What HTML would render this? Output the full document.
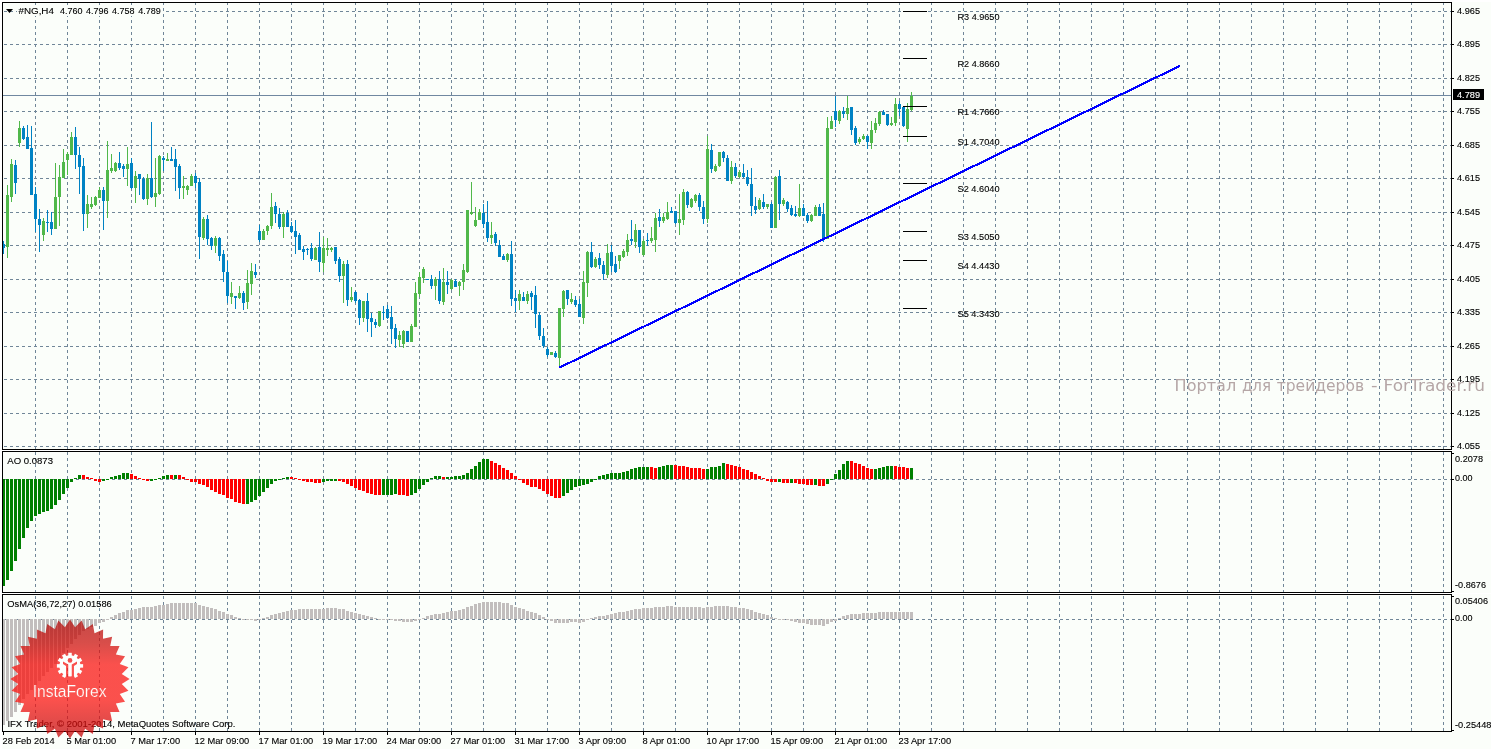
<!DOCTYPE html>
<html lang="en"><head><meta charset="utf-8"><title>#NG,H4</title>
<style>
html,body{margin:0;padding:0;background:#fff;}
body{width:1491px;height:749px;overflow:hidden;position:relative;font-family:"Liberation Sans",sans-serif;}
svg text{white-space:pre;}
</style></head><body>
<svg width="1491" height="749" viewBox="0 0 1491 749" style="position:absolute;left:0;top:0;display:block">
<rect x="0" y="0" width="1491" height="749" fill="#ffffff" />
<rect x="2" y="2" width="1489" height="747" fill="#fbfefa" />
<g shape-rendering="crispEdges" stroke="#708698" stroke-width="1" fill="none">
<line x1="35.5" y1="3" x2="35.5" y2="449" stroke-dasharray="3 3" stroke-dashoffset="1"/>
<line x1="35.5" y1="452" x2="35.5" y2="592" stroke-dasharray="3 3" stroke-dashoffset="0"/>
<line x1="35.5" y1="595" x2="35.5" y2="731" stroke-dasharray="3 3" stroke-dashoffset="5"/>
<line x1="67.5" y1="3" x2="67.5" y2="449" stroke-dasharray="3 3" stroke-dashoffset="1"/>
<line x1="67.5" y1="452" x2="67.5" y2="592" stroke-dasharray="3 3" stroke-dashoffset="0"/>
<line x1="67.5" y1="595" x2="67.5" y2="731" stroke-dasharray="3 3" stroke-dashoffset="5"/>
<line x1="99.5" y1="3" x2="99.5" y2="449" stroke-dasharray="3 3" stroke-dashoffset="1"/>
<line x1="99.5" y1="452" x2="99.5" y2="592" stroke-dasharray="3 3" stroke-dashoffset="0"/>
<line x1="99.5" y1="595" x2="99.5" y2="731" stroke-dasharray="3 3" stroke-dashoffset="5"/>
<line x1="131.5" y1="3" x2="131.5" y2="449" stroke-dasharray="3 3" stroke-dashoffset="1"/>
<line x1="131.5" y1="452" x2="131.5" y2="592" stroke-dasharray="3 3" stroke-dashoffset="0"/>
<line x1="131.5" y1="595" x2="131.5" y2="731" stroke-dasharray="3 3" stroke-dashoffset="5"/>
<line x1="163.5" y1="3" x2="163.5" y2="449" stroke-dasharray="3 3" stroke-dashoffset="1"/>
<line x1="163.5" y1="452" x2="163.5" y2="592" stroke-dasharray="3 3" stroke-dashoffset="0"/>
<line x1="163.5" y1="595" x2="163.5" y2="731" stroke-dasharray="3 3" stroke-dashoffset="5"/>
<line x1="195.5" y1="3" x2="195.5" y2="449" stroke-dasharray="3 3" stroke-dashoffset="1"/>
<line x1="195.5" y1="452" x2="195.5" y2="592" stroke-dasharray="3 3" stroke-dashoffset="0"/>
<line x1="195.5" y1="595" x2="195.5" y2="731" stroke-dasharray="3 3" stroke-dashoffset="5"/>
<line x1="227.5" y1="3" x2="227.5" y2="449" stroke-dasharray="3 3" stroke-dashoffset="1"/>
<line x1="227.5" y1="452" x2="227.5" y2="592" stroke-dasharray="3 3" stroke-dashoffset="0"/>
<line x1="227.5" y1="595" x2="227.5" y2="731" stroke-dasharray="3 3" stroke-dashoffset="5"/>
<line x1="259.5" y1="3" x2="259.5" y2="449" stroke-dasharray="3 3" stroke-dashoffset="1"/>
<line x1="259.5" y1="452" x2="259.5" y2="592" stroke-dasharray="3 3" stroke-dashoffset="0"/>
<line x1="259.5" y1="595" x2="259.5" y2="731" stroke-dasharray="3 3" stroke-dashoffset="5"/>
<line x1="291.5" y1="3" x2="291.5" y2="449" stroke-dasharray="3 3" stroke-dashoffset="1"/>
<line x1="291.5" y1="452" x2="291.5" y2="592" stroke-dasharray="3 3" stroke-dashoffset="0"/>
<line x1="291.5" y1="595" x2="291.5" y2="731" stroke-dasharray="3 3" stroke-dashoffset="5"/>
<line x1="323.5" y1="3" x2="323.5" y2="449" stroke-dasharray="3 3" stroke-dashoffset="1"/>
<line x1="323.5" y1="452" x2="323.5" y2="592" stroke-dasharray="3 3" stroke-dashoffset="0"/>
<line x1="323.5" y1="595" x2="323.5" y2="731" stroke-dasharray="3 3" stroke-dashoffset="5"/>
<line x1="355.5" y1="3" x2="355.5" y2="449" stroke-dasharray="3 3" stroke-dashoffset="1"/>
<line x1="355.5" y1="452" x2="355.5" y2="592" stroke-dasharray="3 3" stroke-dashoffset="0"/>
<line x1="355.5" y1="595" x2="355.5" y2="731" stroke-dasharray="3 3" stroke-dashoffset="5"/>
<line x1="387.5" y1="3" x2="387.5" y2="449" stroke-dasharray="3 3" stroke-dashoffset="1"/>
<line x1="387.5" y1="452" x2="387.5" y2="592" stroke-dasharray="3 3" stroke-dashoffset="0"/>
<line x1="387.5" y1="595" x2="387.5" y2="731" stroke-dasharray="3 3" stroke-dashoffset="5"/>
<line x1="419.5" y1="3" x2="419.5" y2="449" stroke-dasharray="3 3" stroke-dashoffset="1"/>
<line x1="419.5" y1="452" x2="419.5" y2="592" stroke-dasharray="3 3" stroke-dashoffset="0"/>
<line x1="419.5" y1="595" x2="419.5" y2="731" stroke-dasharray="3 3" stroke-dashoffset="5"/>
<line x1="451.5" y1="3" x2="451.5" y2="449" stroke-dasharray="3 3" stroke-dashoffset="1"/>
<line x1="451.5" y1="452" x2="451.5" y2="592" stroke-dasharray="3 3" stroke-dashoffset="0"/>
<line x1="451.5" y1="595" x2="451.5" y2="731" stroke-dasharray="3 3" stroke-dashoffset="5"/>
<line x1="483.5" y1="3" x2="483.5" y2="449" stroke-dasharray="3 3" stroke-dashoffset="1"/>
<line x1="483.5" y1="452" x2="483.5" y2="592" stroke-dasharray="3 3" stroke-dashoffset="0"/>
<line x1="483.5" y1="595" x2="483.5" y2="731" stroke-dasharray="3 3" stroke-dashoffset="5"/>
<line x1="515.5" y1="3" x2="515.5" y2="449" stroke-dasharray="3 3" stroke-dashoffset="1"/>
<line x1="515.5" y1="452" x2="515.5" y2="592" stroke-dasharray="3 3" stroke-dashoffset="0"/>
<line x1="515.5" y1="595" x2="515.5" y2="731" stroke-dasharray="3 3" stroke-dashoffset="5"/>
<line x1="547.5" y1="3" x2="547.5" y2="449" stroke-dasharray="3 3" stroke-dashoffset="1"/>
<line x1="547.5" y1="452" x2="547.5" y2="592" stroke-dasharray="3 3" stroke-dashoffset="0"/>
<line x1="547.5" y1="595" x2="547.5" y2="731" stroke-dasharray="3 3" stroke-dashoffset="5"/>
<line x1="579.5" y1="3" x2="579.5" y2="449" stroke-dasharray="3 3" stroke-dashoffset="1"/>
<line x1="579.5" y1="452" x2="579.5" y2="592" stroke-dasharray="3 3" stroke-dashoffset="0"/>
<line x1="579.5" y1="595" x2="579.5" y2="731" stroke-dasharray="3 3" stroke-dashoffset="5"/>
<line x1="611.5" y1="3" x2="611.5" y2="449" stroke-dasharray="3 3" stroke-dashoffset="1"/>
<line x1="611.5" y1="452" x2="611.5" y2="592" stroke-dasharray="3 3" stroke-dashoffset="0"/>
<line x1="611.5" y1="595" x2="611.5" y2="731" stroke-dasharray="3 3" stroke-dashoffset="5"/>
<line x1="643.5" y1="3" x2="643.5" y2="449" stroke-dasharray="3 3" stroke-dashoffset="1"/>
<line x1="643.5" y1="452" x2="643.5" y2="592" stroke-dasharray="3 3" stroke-dashoffset="0"/>
<line x1="643.5" y1="595" x2="643.5" y2="731" stroke-dasharray="3 3" stroke-dashoffset="5"/>
<line x1="675.5" y1="3" x2="675.5" y2="449" stroke-dasharray="3 3" stroke-dashoffset="1"/>
<line x1="675.5" y1="452" x2="675.5" y2="592" stroke-dasharray="3 3" stroke-dashoffset="0"/>
<line x1="675.5" y1="595" x2="675.5" y2="731" stroke-dasharray="3 3" stroke-dashoffset="5"/>
<line x1="707.5" y1="3" x2="707.5" y2="449" stroke-dasharray="3 3" stroke-dashoffset="1"/>
<line x1="707.5" y1="452" x2="707.5" y2="592" stroke-dasharray="3 3" stroke-dashoffset="0"/>
<line x1="707.5" y1="595" x2="707.5" y2="731" stroke-dasharray="3 3" stroke-dashoffset="5"/>
<line x1="739.5" y1="3" x2="739.5" y2="449" stroke-dasharray="3 3" stroke-dashoffset="1"/>
<line x1="739.5" y1="452" x2="739.5" y2="592" stroke-dasharray="3 3" stroke-dashoffset="0"/>
<line x1="739.5" y1="595" x2="739.5" y2="731" stroke-dasharray="3 3" stroke-dashoffset="5"/>
<line x1="771.5" y1="3" x2="771.5" y2="449" stroke-dasharray="3 3" stroke-dashoffset="1"/>
<line x1="771.5" y1="452" x2="771.5" y2="592" stroke-dasharray="3 3" stroke-dashoffset="0"/>
<line x1="771.5" y1="595" x2="771.5" y2="731" stroke-dasharray="3 3" stroke-dashoffset="5"/>
<line x1="803.5" y1="3" x2="803.5" y2="449" stroke-dasharray="3 3" stroke-dashoffset="1"/>
<line x1="803.5" y1="452" x2="803.5" y2="592" stroke-dasharray="3 3" stroke-dashoffset="0"/>
<line x1="803.5" y1="595" x2="803.5" y2="731" stroke-dasharray="3 3" stroke-dashoffset="5"/>
<line x1="835.5" y1="3" x2="835.5" y2="449" stroke-dasharray="3 3" stroke-dashoffset="1"/>
<line x1="835.5" y1="452" x2="835.5" y2="592" stroke-dasharray="3 3" stroke-dashoffset="0"/>
<line x1="835.5" y1="595" x2="835.5" y2="731" stroke-dasharray="3 3" stroke-dashoffset="5"/>
<line x1="867.5" y1="3" x2="867.5" y2="449" stroke-dasharray="3 3" stroke-dashoffset="1"/>
<line x1="867.5" y1="452" x2="867.5" y2="592" stroke-dasharray="3 3" stroke-dashoffset="0"/>
<line x1="867.5" y1="595" x2="867.5" y2="731" stroke-dasharray="3 3" stroke-dashoffset="5"/>
<line x1="899.5" y1="3" x2="899.5" y2="449" stroke-dasharray="3 3" stroke-dashoffset="1"/>
<line x1="899.5" y1="452" x2="899.5" y2="592" stroke-dasharray="3 3" stroke-dashoffset="0"/>
<line x1="899.5" y1="595" x2="899.5" y2="731" stroke-dasharray="3 3" stroke-dashoffset="5"/>
<line x1="931.5" y1="3" x2="931.5" y2="449" stroke-dasharray="3 3" stroke-dashoffset="1"/>
<line x1="931.5" y1="452" x2="931.5" y2="592" stroke-dasharray="3 3" stroke-dashoffset="0"/>
<line x1="931.5" y1="595" x2="931.5" y2="731" stroke-dasharray="3 3" stroke-dashoffset="5"/>
<line x1="963.5" y1="3" x2="963.5" y2="449" stroke-dasharray="3 3" stroke-dashoffset="1"/>
<line x1="963.5" y1="452" x2="963.5" y2="592" stroke-dasharray="3 3" stroke-dashoffset="0"/>
<line x1="963.5" y1="595" x2="963.5" y2="731" stroke-dasharray="3 3" stroke-dashoffset="5"/>
<line x1="995.5" y1="3" x2="995.5" y2="449" stroke-dasharray="3 3" stroke-dashoffset="1"/>
<line x1="995.5" y1="452" x2="995.5" y2="592" stroke-dasharray="3 3" stroke-dashoffset="0"/>
<line x1="995.5" y1="595" x2="995.5" y2="731" stroke-dasharray="3 3" stroke-dashoffset="5"/>
<line x1="1027.5" y1="3" x2="1027.5" y2="449" stroke-dasharray="3 3" stroke-dashoffset="1"/>
<line x1="1027.5" y1="452" x2="1027.5" y2="592" stroke-dasharray="3 3" stroke-dashoffset="0"/>
<line x1="1027.5" y1="595" x2="1027.5" y2="731" stroke-dasharray="3 3" stroke-dashoffset="5"/>
<line x1="1059.5" y1="3" x2="1059.5" y2="449" stroke-dasharray="3 3" stroke-dashoffset="1"/>
<line x1="1059.5" y1="452" x2="1059.5" y2="592" stroke-dasharray="3 3" stroke-dashoffset="0"/>
<line x1="1059.5" y1="595" x2="1059.5" y2="731" stroke-dasharray="3 3" stroke-dashoffset="5"/>
<line x1="1091.5" y1="3" x2="1091.5" y2="449" stroke-dasharray="3 3" stroke-dashoffset="1"/>
<line x1="1091.5" y1="452" x2="1091.5" y2="592" stroke-dasharray="3 3" stroke-dashoffset="0"/>
<line x1="1091.5" y1="595" x2="1091.5" y2="731" stroke-dasharray="3 3" stroke-dashoffset="5"/>
<line x1="1123.5" y1="3" x2="1123.5" y2="449" stroke-dasharray="3 3" stroke-dashoffset="1"/>
<line x1="1123.5" y1="452" x2="1123.5" y2="592" stroke-dasharray="3 3" stroke-dashoffset="0"/>
<line x1="1123.5" y1="595" x2="1123.5" y2="731" stroke-dasharray="3 3" stroke-dashoffset="5"/>
<line x1="1155.5" y1="3" x2="1155.5" y2="449" stroke-dasharray="3 3" stroke-dashoffset="1"/>
<line x1="1155.5" y1="452" x2="1155.5" y2="592" stroke-dasharray="3 3" stroke-dashoffset="0"/>
<line x1="1155.5" y1="595" x2="1155.5" y2="731" stroke-dasharray="3 3" stroke-dashoffset="5"/>
<line x1="1187.5" y1="3" x2="1187.5" y2="449" stroke-dasharray="3 3" stroke-dashoffset="1"/>
<line x1="1187.5" y1="452" x2="1187.5" y2="592" stroke-dasharray="3 3" stroke-dashoffset="0"/>
<line x1="1187.5" y1="595" x2="1187.5" y2="731" stroke-dasharray="3 3" stroke-dashoffset="5"/>
<line x1="1219.5" y1="3" x2="1219.5" y2="449" stroke-dasharray="3 3" stroke-dashoffset="1"/>
<line x1="1219.5" y1="452" x2="1219.5" y2="592" stroke-dasharray="3 3" stroke-dashoffset="0"/>
<line x1="1219.5" y1="595" x2="1219.5" y2="731" stroke-dasharray="3 3" stroke-dashoffset="5"/>
<line x1="1251.5" y1="3" x2="1251.5" y2="449" stroke-dasharray="3 3" stroke-dashoffset="1"/>
<line x1="1251.5" y1="452" x2="1251.5" y2="592" stroke-dasharray="3 3" stroke-dashoffset="0"/>
<line x1="1251.5" y1="595" x2="1251.5" y2="731" stroke-dasharray="3 3" stroke-dashoffset="5"/>
<line x1="1283.5" y1="3" x2="1283.5" y2="449" stroke-dasharray="3 3" stroke-dashoffset="1"/>
<line x1="1283.5" y1="452" x2="1283.5" y2="592" stroke-dasharray="3 3" stroke-dashoffset="0"/>
<line x1="1283.5" y1="595" x2="1283.5" y2="731" stroke-dasharray="3 3" stroke-dashoffset="5"/>
<line x1="1315.5" y1="3" x2="1315.5" y2="449" stroke-dasharray="3 3" stroke-dashoffset="1"/>
<line x1="1315.5" y1="452" x2="1315.5" y2="592" stroke-dasharray="3 3" stroke-dashoffset="0"/>
<line x1="1315.5" y1="595" x2="1315.5" y2="731" stroke-dasharray="3 3" stroke-dashoffset="5"/>
<line x1="1347.5" y1="3" x2="1347.5" y2="449" stroke-dasharray="3 3" stroke-dashoffset="1"/>
<line x1="1347.5" y1="452" x2="1347.5" y2="592" stroke-dasharray="3 3" stroke-dashoffset="0"/>
<line x1="1347.5" y1="595" x2="1347.5" y2="731" stroke-dasharray="3 3" stroke-dashoffset="5"/>
<line x1="1379.5" y1="3" x2="1379.5" y2="449" stroke-dasharray="3 3" stroke-dashoffset="1"/>
<line x1="1379.5" y1="452" x2="1379.5" y2="592" stroke-dasharray="3 3" stroke-dashoffset="0"/>
<line x1="1379.5" y1="595" x2="1379.5" y2="731" stroke-dasharray="3 3" stroke-dashoffset="5"/>
<line x1="1411.5" y1="3" x2="1411.5" y2="449" stroke-dasharray="3 3" stroke-dashoffset="1"/>
<line x1="1411.5" y1="452" x2="1411.5" y2="592" stroke-dasharray="3 3" stroke-dashoffset="0"/>
<line x1="1411.5" y1="595" x2="1411.5" y2="731" stroke-dasharray="3 3" stroke-dashoffset="5"/>
<line x1="1443.5" y1="3" x2="1443.5" y2="449" stroke-dasharray="3 3" stroke-dashoffset="1"/>
<line x1="1443.5" y1="452" x2="1443.5" y2="592" stroke-dasharray="3 3" stroke-dashoffset="0"/>
<line x1="1443.5" y1="595" x2="1443.5" y2="731" stroke-dasharray="3 3" stroke-dashoffset="5"/>
<line x1="3" y1="11.5" x2="1451" y2="11.5" stroke-dasharray="3 3" stroke-dashoffset="5"/>
<line x1="3" y1="44.5" x2="1451" y2="44.5" stroke-dasharray="3 3" stroke-dashoffset="5"/>
<line x1="3" y1="78.5" x2="1451" y2="78.5" stroke-dasharray="3 3" stroke-dashoffset="5"/>
<line x1="3" y1="111.5" x2="1451" y2="111.5" stroke-dasharray="3 3" stroke-dashoffset="5"/>
<line x1="3" y1="145.5" x2="1451" y2="145.5" stroke-dasharray="3 3" stroke-dashoffset="5"/>
<line x1="3" y1="178.5" x2="1451" y2="178.5" stroke-dasharray="3 3" stroke-dashoffset="5"/>
<line x1="3" y1="212.5" x2="1451" y2="212.5" stroke-dasharray="3 3" stroke-dashoffset="5"/>
<line x1="3" y1="245.5" x2="1451" y2="245.5" stroke-dasharray="3 3" stroke-dashoffset="5"/>
<line x1="3" y1="279.5" x2="1451" y2="279.5" stroke-dasharray="3 3" stroke-dashoffset="5"/>
<line x1="3" y1="312.5" x2="1451" y2="312.5" stroke-dasharray="3 3" stroke-dashoffset="5"/>
<line x1="3" y1="346.5" x2="1451" y2="346.5" stroke-dasharray="3 3" stroke-dashoffset="5"/>
<line x1="3" y1="379.5" x2="1451" y2="379.5" stroke-dasharray="3 3" stroke-dashoffset="5"/>
<line x1="3" y1="413.5" x2="1451" y2="413.5" stroke-dasharray="3 3" stroke-dashoffset="5"/>
<line x1="3" y1="446.5" x2="1451" y2="446.5" stroke-dasharray="3 3" stroke-dashoffset="5"/>
</g>
<g shape-rendering="crispEdges" stroke="#708698" stroke-width="1" fill="none">
<line x1="3" y1="479.5" x2="1451" y2="479.5" stroke-dasharray="3 3" stroke-dashoffset="5"/>
<line x1="3" y1="619.5" x2="1451" y2="619.5" stroke-dasharray="3 3" stroke-dashoffset="5"/>
</g>
<g shape-rendering="crispEdges">
<rect x="3" y="619" width="2" height="106" fill="#c2bebd" />
<rect x="6" y="619" width="3" height="102" fill="#c2bebd" />
<rect x="10" y="619" width="3" height="98" fill="#c2bebd" />
<rect x="14" y="619" width="3" height="93" fill="#c2bebd" />
<rect x="18" y="619" width="3" height="86" fill="#c2bebd" />
<rect x="22" y="619" width="3" height="80" fill="#c2bebd" />
<rect x="26" y="619" width="3" height="75" fill="#c2bebd" />
<rect x="30" y="619" width="3" height="71" fill="#c2bebd" />
<rect x="34" y="619" width="3" height="66" fill="#c2bebd" />
<rect x="38" y="619" width="3" height="62" fill="#c2bebd" />
<rect x="42" y="619" width="3" height="57" fill="#c2bebd" />
<rect x="46" y="619" width="3" height="53" fill="#c2bebd" />
<rect x="50" y="619" width="3" height="49" fill="#c2bebd" />
<rect x="54" y="619" width="3" height="45" fill="#c2bebd" />
<rect x="58" y="619" width="3" height="40" fill="#c2bebd" />
<rect x="62" y="619" width="3" height="34" fill="#c2bebd" />
<rect x="66" y="619" width="3" height="29" fill="#c2bebd" />
<rect x="70" y="619" width="3" height="25" fill="#c2bebd" />
<rect x="74" y="619" width="3" height="20" fill="#c2bebd" />
<rect x="78" y="619" width="3" height="16" fill="#c2bebd" />
<rect x="82" y="619" width="3" height="12" fill="#c2bebd" />
<rect x="86" y="619" width="3" height="10" fill="#c2bebd" />
<rect x="90" y="619" width="3" height="8" fill="#c2bebd" />
<rect x="94" y="619" width="3" height="7" fill="#c2bebd" />
<rect x="98" y="619" width="3" height="4" fill="#c2bebd" />
<rect x="102" y="619" width="3" height="3" fill="#c2bebd" />
<rect x="106" y="619" width="3" height="1" fill="#c2bebd" />
<rect x="110" y="617" width="3" height="2" fill="#c2bebd" />
<rect x="114" y="615" width="3" height="4" fill="#c2bebd" />
<rect x="118" y="613" width="3" height="6" fill="#c2bebd" />
<rect x="122" y="612" width="3" height="7" fill="#c2bebd" />
<rect x="126" y="610" width="3" height="9" fill="#c2bebd" />
<rect x="130" y="610" width="3" height="9" fill="#c2bebd" />
<rect x="134" y="609" width="3" height="10" fill="#c2bebd" />
<rect x="138" y="608" width="3" height="11" fill="#c2bebd" />
<rect x="142" y="607" width="3" height="12" fill="#c2bebd" />
<rect x="146" y="607" width="3" height="12" fill="#c2bebd" />
<rect x="150" y="607" width="3" height="12" fill="#c2bebd" />
<rect x="154" y="606" width="3" height="13" fill="#c2bebd" />
<rect x="158" y="605" width="3" height="14" fill="#c2bebd" />
<rect x="162" y="605" width="3" height="14" fill="#c2bebd" />
<rect x="166" y="604" width="3" height="15" fill="#c2bebd" />
<rect x="170" y="603" width="3" height="16" fill="#c2bebd" />
<rect x="174" y="603" width="3" height="16" fill="#c2bebd" />
<rect x="178" y="603" width="3" height="16" fill="#c2bebd" />
<rect x="182" y="603" width="3" height="16" fill="#c2bebd" />
<rect x="186" y="603" width="3" height="16" fill="#c2bebd" />
<rect x="190" y="603" width="3" height="16" fill="#c2bebd" />
<rect x="194" y="603" width="3" height="16" fill="#c2bebd" />
<rect x="198" y="605" width="3" height="14" fill="#c2bebd" />
<rect x="202" y="606" width="3" height="13" fill="#c2bebd" />
<rect x="206" y="607" width="3" height="12" fill="#c2bebd" />
<rect x="210" y="608" width="3" height="11" fill="#c2bebd" />
<rect x="214" y="609" width="3" height="10" fill="#c2bebd" />
<rect x="218" y="611" width="3" height="8" fill="#c2bebd" />
<rect x="222" y="612" width="3" height="7" fill="#c2bebd" />
<rect x="226" y="614" width="3" height="5" fill="#c2bebd" />
<rect x="230" y="615" width="3" height="4" fill="#c2bebd" />
<rect x="234" y="617" width="3" height="2" fill="#c2bebd" />
<rect x="238" y="618" width="3" height="1" fill="#c2bebd" />
<rect x="242" y="619" width="3" height="1" fill="#c2bebd" />
<rect x="246" y="619" width="3" height="1" fill="#c2bebd" />
<rect x="250" y="619" width="3" height="1" fill="#c2bebd" />
<rect x="254" y="619" width="3" height="2" fill="#c2bebd" />
<rect x="258" y="619" width="3" height="1" fill="#c2bebd" />
<rect x="262" y="618" width="3" height="1" fill="#c2bebd" />
<rect x="266" y="617" width="3" height="2" fill="#c2bebd" />
<rect x="270" y="615" width="3" height="4" fill="#c2bebd" />
<rect x="274" y="614" width="3" height="5" fill="#c2bebd" />
<rect x="278" y="613" width="3" height="6" fill="#c2bebd" />
<rect x="282" y="612" width="3" height="7" fill="#c2bebd" />
<rect x="286" y="611" width="3" height="8" fill="#c2bebd" />
<rect x="290" y="610" width="3" height="9" fill="#c2bebd" />
<rect x="294" y="610" width="3" height="9" fill="#c2bebd" />
<rect x="298" y="609" width="3" height="10" fill="#c2bebd" />
<rect x="302" y="609" width="3" height="10" fill="#c2bebd" />
<rect x="306" y="609" width="3" height="10" fill="#c2bebd" />
<rect x="310" y="609" width="3" height="10" fill="#c2bebd" />
<rect x="314" y="609" width="3" height="10" fill="#c2bebd" />
<rect x="318" y="609" width="3" height="10" fill="#c2bebd" />
<rect x="322" y="609" width="3" height="10" fill="#c2bebd" />
<rect x="326" y="608" width="3" height="11" fill="#c2bebd" />
<rect x="330" y="608" width="3" height="11" fill="#c2bebd" />
<rect x="334" y="608" width="3" height="11" fill="#c2bebd" />
<rect x="338" y="609" width="3" height="10" fill="#c2bebd" />
<rect x="342" y="609" width="3" height="10" fill="#c2bebd" />
<rect x="346" y="611" width="3" height="8" fill="#c2bebd" />
<rect x="350" y="612" width="3" height="7" fill="#c2bebd" />
<rect x="354" y="613" width="3" height="6" fill="#c2bebd" />
<rect x="358" y="614" width="3" height="5" fill="#c2bebd" />
<rect x="362" y="615" width="3" height="4" fill="#c2bebd" />
<rect x="366" y="616" width="3" height="3" fill="#c2bebd" />
<rect x="370" y="617" width="3" height="2" fill="#c2bebd" />
<rect x="374" y="618" width="3" height="1" fill="#c2bebd" />
<rect x="378" y="619" width="3" height="1" fill="#c2bebd" />
<rect x="382" y="619" width="3" height="1" fill="#c2bebd" />
<rect x="386" y="619" width="3" height="1" fill="#c2bebd" />
<rect x="390" y="619" width="3" height="1" fill="#c2bebd" />
<rect x="394" y="619" width="3" height="2" fill="#c2bebd" />
<rect x="398" y="619" width="3" height="2" fill="#c2bebd" />
<rect x="402" y="619" width="3" height="3" fill="#c2bebd" />
<rect x="406" y="619" width="3" height="3" fill="#c2bebd" />
<rect x="410" y="619" width="3" height="3" fill="#c2bebd" />
<rect x="414" y="619" width="3" height="2" fill="#c2bebd" />
<rect x="418" y="619" width="3" height="1" fill="#c2bebd" />
<rect x="422" y="618" width="3" height="1" fill="#c2bebd" />
<rect x="426" y="616" width="3" height="3" fill="#c2bebd" />
<rect x="430" y="615" width="3" height="4" fill="#c2bebd" />
<rect x="434" y="614" width="3" height="5" fill="#c2bebd" />
<rect x="438" y="614" width="3" height="5" fill="#c2bebd" />
<rect x="442" y="613" width="3" height="6" fill="#c2bebd" />
<rect x="446" y="612" width="3" height="7" fill="#c2bebd" />
<rect x="450" y="611" width="3" height="8" fill="#c2bebd" />
<rect x="454" y="611" width="3" height="8" fill="#c2bebd" />
<rect x="458" y="610" width="3" height="9" fill="#c2bebd" />
<rect x="462" y="609" width="3" height="10" fill="#c2bebd" />
<rect x="466" y="607" width="3" height="12" fill="#c2bebd" />
<rect x="470" y="606" width="3" height="13" fill="#c2bebd" />
<rect x="474" y="604" width="3" height="15" fill="#c2bebd" />
<rect x="478" y="603" width="3" height="16" fill="#c2bebd" />
<rect x="482" y="602" width="3" height="17" fill="#c2bebd" />
<rect x="486" y="602" width="3" height="17" fill="#c2bebd" />
<rect x="490" y="602" width="3" height="17" fill="#c2bebd" />
<rect x="494" y="602" width="3" height="17" fill="#c2bebd" />
<rect x="498" y="602" width="3" height="17" fill="#c2bebd" />
<rect x="502" y="603" width="3" height="16" fill="#c2bebd" />
<rect x="506" y="603" width="3" height="16" fill="#c2bebd" />
<rect x="510" y="605" width="3" height="14" fill="#c2bebd" />
<rect x="514" y="607" width="3" height="12" fill="#c2bebd" />
<rect x="518" y="608" width="3" height="11" fill="#c2bebd" />
<rect x="522" y="609" width="3" height="10" fill="#c2bebd" />
<rect x="526" y="611" width="3" height="8" fill="#c2bebd" />
<rect x="530" y="612" width="3" height="7" fill="#c2bebd" />
<rect x="534" y="613" width="3" height="6" fill="#c2bebd" />
<rect x="538" y="615" width="3" height="4" fill="#c2bebd" />
<rect x="542" y="617" width="3" height="2" fill="#c2bebd" />
<rect x="546" y="619" width="3" height="1" fill="#c2bebd" />
<rect x="550" y="619" width="3" height="2" fill="#c2bebd" />
<rect x="554" y="619" width="3" height="4" fill="#c2bebd" />
<rect x="558" y="619" width="3" height="4" fill="#c2bebd" />
<rect x="562" y="619" width="3" height="4" fill="#c2bebd" />
<rect x="566" y="619" width="3" height="4" fill="#c2bebd" />
<rect x="570" y="619" width="3" height="3" fill="#c2bebd" />
<rect x="574" y="619" width="3" height="3" fill="#c2bebd" />
<rect x="578" y="619" width="3" height="4" fill="#c2bebd" />
<rect x="582" y="619" width="3" height="3" fill="#c2bebd" />
<rect x="586" y="619" width="3" height="1" fill="#c2bebd" />
<rect x="590" y="618" width="3" height="1" fill="#c2bebd" />
<rect x="594" y="617" width="3" height="2" fill="#c2bebd" />
<rect x="598" y="616" width="3" height="3" fill="#c2bebd" />
<rect x="602" y="616" width="3" height="3" fill="#c2bebd" />
<rect x="606" y="615" width="3" height="4" fill="#c2bebd" />
<rect x="610" y="614" width="3" height="5" fill="#c2bebd" />
<rect x="614" y="613" width="3" height="6" fill="#c2bebd" />
<rect x="618" y="612" width="3" height="7" fill="#c2bebd" />
<rect x="622" y="612" width="3" height="7" fill="#c2bebd" />
<rect x="626" y="611" width="3" height="8" fill="#c2bebd" />
<rect x="630" y="610" width="3" height="9" fill="#c2bebd" />
<rect x="634" y="609" width="3" height="10" fill="#c2bebd" />
<rect x="638" y="609" width="3" height="10" fill="#c2bebd" />
<rect x="642" y="608" width="3" height="11" fill="#c2bebd" />
<rect x="646" y="608" width="3" height="11" fill="#c2bebd" />
<rect x="650" y="608" width="3" height="11" fill="#c2bebd" />
<rect x="654" y="607" width="3" height="12" fill="#c2bebd" />
<rect x="658" y="607" width="3" height="12" fill="#c2bebd" />
<rect x="662" y="607" width="3" height="12" fill="#c2bebd" />
<rect x="666" y="606" width="3" height="13" fill="#c2bebd" />
<rect x="670" y="606" width="3" height="13" fill="#c2bebd" />
<rect x="674" y="607" width="3" height="12" fill="#c2bebd" />
<rect x="678" y="607" width="3" height="12" fill="#c2bebd" />
<rect x="682" y="607" width="3" height="12" fill="#c2bebd" />
<rect x="686" y="607" width="3" height="12" fill="#c2bebd" />
<rect x="690" y="607" width="3" height="12" fill="#c2bebd" />
<rect x="694" y="607" width="3" height="12" fill="#c2bebd" />
<rect x="698" y="607" width="3" height="12" fill="#c2bebd" />
<rect x="702" y="608" width="3" height="11" fill="#c2bebd" />
<rect x="706" y="607" width="3" height="12" fill="#c2bebd" />
<rect x="710" y="607" width="3" height="12" fill="#c2bebd" />
<rect x="714" y="606" width="3" height="13" fill="#c2bebd" />
<rect x="718" y="606" width="3" height="13" fill="#c2bebd" />
<rect x="722" y="606" width="3" height="13" fill="#c2bebd" />
<rect x="726" y="606" width="3" height="13" fill="#c2bebd" />
<rect x="730" y="607" width="3" height="12" fill="#c2bebd" />
<rect x="734" y="607" width="3" height="12" fill="#c2bebd" />
<rect x="738" y="608" width="3" height="11" fill="#c2bebd" />
<rect x="742" y="608" width="3" height="11" fill="#c2bebd" />
<rect x="746" y="609" width="3" height="10" fill="#c2bebd" />
<rect x="750" y="610" width="3" height="9" fill="#c2bebd" />
<rect x="754" y="612" width="3" height="7" fill="#c2bebd" />
<rect x="758" y="613" width="3" height="6" fill="#c2bebd" />
<rect x="762" y="614" width="3" height="5" fill="#c2bebd" />
<rect x="766" y="615" width="3" height="4" fill="#c2bebd" />
<rect x="770" y="617" width="3" height="2" fill="#c2bebd" />
<rect x="774" y="618" width="3" height="1" fill="#c2bebd" />
<rect x="778" y="619" width="3" height="1" fill="#c2bebd" />
<rect x="782" y="619" width="3" height="1" fill="#c2bebd" />
<rect x="786" y="619" width="3" height="1" fill="#c2bebd" />
<rect x="790" y="619" width="3" height="2" fill="#c2bebd" />
<rect x="794" y="619" width="3" height="3" fill="#c2bebd" />
<rect x="798" y="619" width="3" height="4" fill="#c2bebd" />
<rect x="802" y="619" width="3" height="4" fill="#c2bebd" />
<rect x="806" y="619" width="3" height="5" fill="#c2bebd" />
<rect x="810" y="619" width="3" height="6" fill="#c2bebd" />
<rect x="814" y="619" width="3" height="6" fill="#c2bebd" />
<rect x="818" y="619" width="3" height="6" fill="#c2bebd" />
<rect x="822" y="619" width="3" height="7" fill="#c2bebd" />
<rect x="826" y="619" width="3" height="5" fill="#c2bebd" />
<rect x="830" y="619" width="3" height="3" fill="#c2bebd" />
<rect x="834" y="619" width="3" height="2" fill="#c2bebd" />
<rect x="838" y="618" width="3" height="1" fill="#c2bebd" />
<rect x="842" y="616" width="3" height="3" fill="#c2bebd" />
<rect x="846" y="615" width="3" height="4" fill="#c2bebd" />
<rect x="850" y="614" width="3" height="5" fill="#c2bebd" />
<rect x="854" y="614" width="3" height="5" fill="#c2bebd" />
<rect x="858" y="614" width="3" height="5" fill="#c2bebd" />
<rect x="862" y="613" width="3" height="6" fill="#c2bebd" />
<rect x="866" y="613" width="3" height="6" fill="#c2bebd" />
<rect x="870" y="613" width="3" height="6" fill="#c2bebd" />
<rect x="874" y="613" width="3" height="6" fill="#c2bebd" />
<rect x="878" y="612" width="3" height="7" fill="#c2bebd" />
<rect x="882" y="612" width="3" height="7" fill="#c2bebd" />
<rect x="886" y="612" width="3" height="7" fill="#c2bebd" />
<rect x="890" y="612" width="3" height="7" fill="#c2bebd" />
<rect x="894" y="612" width="3" height="7" fill="#c2bebd" />
<rect x="898" y="612" width="3" height="7" fill="#c2bebd" />
<rect x="902" y="612" width="3" height="7" fill="#c2bebd" />
<rect x="906" y="612" width="3" height="7" fill="#c2bebd" />
<rect x="910" y="612" width="3" height="7" fill="#c2bebd" />
<rect x="3" y="479" width="2" height="107" fill="#008000" />
<rect x="6" y="479" width="3" height="101" fill="#008000" />
<rect x="10" y="479" width="3" height="92" fill="#008000" />
<rect x="14" y="479" width="3" height="82" fill="#008000" />
<rect x="18" y="479" width="3" height="70" fill="#008000" />
<rect x="22" y="479" width="3" height="59" fill="#008000" />
<rect x="26" y="479" width="3" height="49" fill="#008000" />
<rect x="30" y="479" width="3" height="42" fill="#008000" />
<rect x="34" y="479" width="3" height="37" fill="#008000" />
<rect x="38" y="479" width="3" height="35" fill="#008000" />
<rect x="42" y="479" width="3" height="33" fill="#008000" />
<rect x="46" y="479" width="3" height="32" fill="#008000" />
<rect x="50" y="479" width="3" height="30" fill="#008000" />
<rect x="54" y="479" width="3" height="26" fill="#008000" />
<rect x="58" y="479" width="3" height="21" fill="#008000" />
<rect x="62" y="479" width="3" height="15" fill="#008000" />
<rect x="66" y="479" width="3" height="9" fill="#008000" />
<rect x="70" y="479" width="3" height="3" fill="#008000" />
<rect x="74" y="478" width="3" height="1" fill="#008000" />
<rect x="78" y="475" width="3" height="4" fill="#008000" />
<rect x="82" y="475" width="3" height="4" fill="#ff0000" />
<rect x="86" y="477" width="3" height="2" fill="#ff0000" />
<rect x="90" y="478" width="3" height="1" fill="#ff0000" />
<rect x="94" y="479" width="3" height="2" fill="#ff0000" />
<rect x="98" y="479" width="3" height="3" fill="#ff0000" />
<rect x="102" y="479" width="3" height="2" fill="#008000" />
<rect x="106" y="479" width="3" height="1" fill="#008000" />
<rect x="110" y="477" width="3" height="2" fill="#008000" />
<rect x="114" y="476" width="3" height="3" fill="#008000" />
<rect x="118" y="475" width="3" height="4" fill="#008000" />
<rect x="122" y="473" width="3" height="6" fill="#008000" />
<rect x="126" y="473" width="3" height="6" fill="#008000" />
<rect x="130" y="474" width="3" height="5" fill="#ff0000" />
<rect x="134" y="476" width="3" height="3" fill="#ff0000" />
<rect x="138" y="478" width="3" height="1" fill="#ff0000" />
<rect x="142" y="479" width="3" height="1" fill="#ff0000" />
<rect x="146" y="479" width="3" height="2" fill="#ff0000" />
<rect x="150" y="479" width="3" height="2" fill="#008000" />
<rect x="154" y="479" width="3" height="1" fill="#008000" />
<rect x="158" y="478" width="3" height="1" fill="#008000" />
<rect x="162" y="476" width="3" height="3" fill="#008000" />
<rect x="166" y="475" width="3" height="4" fill="#008000" />
<rect x="170" y="475" width="3" height="4" fill="#ff0000" />
<rect x="174" y="475" width="3" height="4" fill="#008000" />
<rect x="178" y="475" width="3" height="4" fill="#ff0000" />
<rect x="182" y="477" width="3" height="2" fill="#ff0000" />
<rect x="186" y="479" width="3" height="1" fill="#ff0000" />
<rect x="190" y="479" width="3" height="3" fill="#ff0000" />
<rect x="194" y="479" width="3" height="3" fill="#ff0000" />
<rect x="198" y="479" width="3" height="5" fill="#ff0000" />
<rect x="202" y="479" width="3" height="6" fill="#ff0000" />
<rect x="206" y="479" width="3" height="8" fill="#ff0000" />
<rect x="210" y="479" width="3" height="11" fill="#ff0000" />
<rect x="214" y="479" width="3" height="13" fill="#ff0000" />
<rect x="218" y="479" width="3" height="15" fill="#ff0000" />
<rect x="222" y="479" width="3" height="16" fill="#ff0000" />
<rect x="226" y="479" width="3" height="19" fill="#ff0000" />
<rect x="230" y="479" width="3" height="20" fill="#ff0000" />
<rect x="234" y="479" width="3" height="23" fill="#ff0000" />
<rect x="238" y="479" width="3" height="24" fill="#ff0000" />
<rect x="242" y="479" width="3" height="25" fill="#ff0000" />
<rect x="246" y="479" width="3" height="25" fill="#008000" />
<rect x="250" y="479" width="3" height="23" fill="#008000" />
<rect x="254" y="479" width="3" height="21" fill="#008000" />
<rect x="258" y="479" width="3" height="17" fill="#008000" />
<rect x="262" y="479" width="3" height="13" fill="#008000" />
<rect x="266" y="479" width="3" height="9" fill="#008000" />
<rect x="270" y="479" width="3" height="5" fill="#008000" />
<rect x="274" y="479" width="3" height="2" fill="#008000" />
<rect x="278" y="479" width="3" height="1" fill="#008000" />
<rect x="282" y="478" width="3" height="1" fill="#008000" />
<rect x="286" y="477" width="3" height="2" fill="#008000" />
<rect x="290" y="477" width="3" height="2" fill="#ff0000" />
<rect x="294" y="478" width="3" height="1" fill="#ff0000" />
<rect x="298" y="479" width="3" height="1" fill="#ff0000" />
<rect x="302" y="479" width="3" height="2" fill="#ff0000" />
<rect x="306" y="479" width="3" height="3" fill="#ff0000" />
<rect x="310" y="479" width="3" height="3" fill="#ff0000" />
<rect x="314" y="479" width="3" height="4" fill="#ff0000" />
<rect x="318" y="479" width="3" height="4" fill="#ff0000" />
<rect x="322" y="479" width="3" height="3" fill="#008000" />
<rect x="326" y="479" width="3" height="2" fill="#008000" />
<rect x="330" y="479" width="3" height="2" fill="#008000" />
<rect x="334" y="479" width="3" height="2" fill="#008000" />
<rect x="338" y="479" width="3" height="2" fill="#ff0000" />
<rect x="342" y="479" width="3" height="3" fill="#ff0000" />
<rect x="346" y="479" width="3" height="5" fill="#ff0000" />
<rect x="350" y="479" width="3" height="7" fill="#ff0000" />
<rect x="354" y="479" width="3" height="9" fill="#ff0000" />
<rect x="358" y="479" width="3" height="11" fill="#ff0000" />
<rect x="362" y="479" width="3" height="12" fill="#ff0000" />
<rect x="366" y="479" width="3" height="14" fill="#ff0000" />
<rect x="370" y="479" width="3" height="15" fill="#ff0000" />
<rect x="374" y="479" width="3" height="16" fill="#ff0000" />
<rect x="378" y="479" width="3" height="16" fill="#ff0000" />
<rect x="382" y="479" width="3" height="16" fill="#008000" />
<rect x="386" y="479" width="3" height="16" fill="#008000" />
<rect x="390" y="479" width="3" height="16" fill="#008000" />
<rect x="394" y="479" width="3" height="15" fill="#008000" />
<rect x="398" y="479" width="3" height="16" fill="#ff0000" />
<rect x="402" y="479" width="3" height="16" fill="#ff0000" />
<rect x="406" y="479" width="3" height="17" fill="#ff0000" />
<rect x="410" y="479" width="3" height="16" fill="#008000" />
<rect x="414" y="479" width="3" height="14" fill="#008000" />
<rect x="418" y="479" width="3" height="10" fill="#008000" />
<rect x="422" y="479" width="3" height="6" fill="#008000" />
<rect x="426" y="479" width="3" height="3" fill="#008000" />
<rect x="430" y="478" width="3" height="1" fill="#008000" />
<rect x="434" y="476" width="3" height="3" fill="#008000" />
<rect x="438" y="476" width="3" height="3" fill="#008000" />
<rect x="442" y="477" width="3" height="2" fill="#ff0000" />
<rect x="446" y="477" width="3" height="2" fill="#008000" />
<rect x="450" y="477" width="3" height="2" fill="#008000" />
<rect x="454" y="476" width="3" height="3" fill="#008000" />
<rect x="458" y="476" width="3" height="3" fill="#008000" />
<rect x="462" y="475" width="3" height="4" fill="#008000" />
<rect x="466" y="473" width="3" height="6" fill="#008000" />
<rect x="470" y="469" width="3" height="10" fill="#008000" />
<rect x="474" y="466" width="3" height="13" fill="#008000" />
<rect x="478" y="462" width="3" height="17" fill="#008000" />
<rect x="482" y="459" width="3" height="20" fill="#008000" />
<rect x="486" y="459" width="3" height="20" fill="#008000" />
<rect x="490" y="461" width="3" height="18" fill="#ff0000" />
<rect x="494" y="463" width="3" height="16" fill="#ff0000" />
<rect x="498" y="465" width="3" height="14" fill="#ff0000" />
<rect x="502" y="468" width="3" height="11" fill="#ff0000" />
<rect x="506" y="470" width="3" height="9" fill="#ff0000" />
<rect x="510" y="473" width="3" height="6" fill="#ff0000" />
<rect x="514" y="476" width="3" height="3" fill="#ff0000" />
<rect x="518" y="479" width="3" height="1" fill="#ff0000" />
<rect x="522" y="479" width="3" height="4" fill="#ff0000" />
<rect x="526" y="479" width="3" height="6" fill="#ff0000" />
<rect x="530" y="479" width="3" height="8" fill="#ff0000" />
<rect x="534" y="479" width="3" height="8" fill="#ff0000" />
<rect x="538" y="479" width="3" height="10" fill="#ff0000" />
<rect x="542" y="479" width="3" height="12" fill="#ff0000" />
<rect x="546" y="479" width="3" height="15" fill="#ff0000" />
<rect x="550" y="479" width="3" height="17" fill="#ff0000" />
<rect x="554" y="479" width="3" height="19" fill="#ff0000" />
<rect x="558" y="479" width="3" height="19" fill="#ff0000" />
<rect x="562" y="479" width="3" height="17" fill="#008000" />
<rect x="566" y="479" width="3" height="14" fill="#008000" />
<rect x="570" y="479" width="3" height="11" fill="#008000" />
<rect x="574" y="479" width="3" height="8" fill="#008000" />
<rect x="578" y="479" width="3" height="7" fill="#008000" />
<rect x="582" y="479" width="3" height="6" fill="#008000" />
<rect x="586" y="479" width="3" height="5" fill="#008000" />
<rect x="590" y="479" width="3" height="3" fill="#008000" />
<rect x="594" y="479" width="3" height="1" fill="#008000" />
<rect x="598" y="476" width="3" height="3" fill="#008000" />
<rect x="602" y="475" width="3" height="4" fill="#008000" />
<rect x="606" y="474" width="3" height="5" fill="#008000" />
<rect x="610" y="473" width="3" height="6" fill="#008000" />
<rect x="614" y="473" width="3" height="6" fill="#008000" />
<rect x="618" y="473" width="3" height="6" fill="#008000" />
<rect x="622" y="472" width="3" height="7" fill="#008000" />
<rect x="626" y="471" width="3" height="8" fill="#008000" />
<rect x="630" y="469" width="3" height="10" fill="#008000" />
<rect x="634" y="468" width="3" height="11" fill="#008000" />
<rect x="638" y="467" width="3" height="12" fill="#008000" />
<rect x="642" y="467" width="3" height="12" fill="#008000" />
<rect x="646" y="467" width="3" height="12" fill="#008000" />
<rect x="650" y="467" width="3" height="12" fill="#ff0000" />
<rect x="654" y="468" width="3" height="11" fill="#ff0000" />
<rect x="658" y="467" width="3" height="12" fill="#008000" />
<rect x="662" y="466" width="3" height="13" fill="#008000" />
<rect x="666" y="465" width="3" height="14" fill="#008000" />
<rect x="670" y="465" width="3" height="14" fill="#008000" />
<rect x="674" y="465" width="3" height="14" fill="#ff0000" />
<rect x="678" y="466" width="3" height="13" fill="#ff0000" />
<rect x="682" y="466" width="3" height="13" fill="#ff0000" />
<rect x="686" y="467" width="3" height="12" fill="#ff0000" />
<rect x="690" y="468" width="3" height="11" fill="#ff0000" />
<rect x="694" y="468" width="3" height="11" fill="#ff0000" />
<rect x="698" y="468" width="3" height="11" fill="#ff0000" />
<rect x="702" y="469" width="3" height="10" fill="#ff0000" />
<rect x="706" y="469" width="3" height="10" fill="#008000" />
<rect x="710" y="467" width="3" height="12" fill="#008000" />
<rect x="714" y="467" width="3" height="12" fill="#008000" />
<rect x="718" y="466" width="3" height="13" fill="#008000" />
<rect x="722" y="463" width="3" height="16" fill="#008000" />
<rect x="726" y="464" width="3" height="15" fill="#ff0000" />
<rect x="730" y="465" width="3" height="14" fill="#ff0000" />
<rect x="734" y="466" width="3" height="13" fill="#ff0000" />
<rect x="738" y="467" width="3" height="12" fill="#ff0000" />
<rect x="742" y="469" width="3" height="10" fill="#ff0000" />
<rect x="746" y="470" width="3" height="9" fill="#ff0000" />
<rect x="750" y="472" width="3" height="7" fill="#ff0000" />
<rect x="754" y="474" width="3" height="5" fill="#ff0000" />
<rect x="758" y="476" width="3" height="3" fill="#ff0000" />
<rect x="762" y="478" width="3" height="1" fill="#ff0000" />
<rect x="766" y="479" width="3" height="2" fill="#ff0000" />
<rect x="770" y="479" width="3" height="3" fill="#ff0000" />
<rect x="774" y="479" width="3" height="3" fill="#ff0000" />
<rect x="778" y="479" width="3" height="3" fill="#008000" />
<rect x="782" y="479" width="3" height="4" fill="#ff0000" />
<rect x="786" y="479" width="3" height="4" fill="#ff0000" />
<rect x="790" y="479" width="3" height="4" fill="#008000" />
<rect x="794" y="479" width="3" height="4" fill="#ff0000" />
<rect x="798" y="479" width="3" height="5" fill="#ff0000" />
<rect x="802" y="479" width="3" height="5" fill="#ff0000" />
<rect x="806" y="479" width="3" height="6" fill="#ff0000" />
<rect x="810" y="479" width="3" height="6" fill="#ff0000" />
<rect x="814" y="479" width="3" height="6" fill="#008000" />
<rect x="818" y="479" width="3" height="7" fill="#ff0000" />
<rect x="822" y="479" width="3" height="7" fill="#ff0000" />
<rect x="826" y="479" width="3" height="5" fill="#008000" />
<rect x="830" y="479" width="3" height="1" fill="#008000" />
<rect x="834" y="474" width="3" height="5" fill="#008000" />
<rect x="838" y="470" width="3" height="9" fill="#008000" />
<rect x="842" y="464" width="3" height="15" fill="#008000" />
<rect x="846" y="461" width="3" height="18" fill="#008000" />
<rect x="850" y="461" width="3" height="18" fill="#ff0000" />
<rect x="854" y="463" width="3" height="16" fill="#ff0000" />
<rect x="858" y="464" width="3" height="15" fill="#ff0000" />
<rect x="862" y="466" width="3" height="13" fill="#ff0000" />
<rect x="866" y="468" width="3" height="11" fill="#ff0000" />
<rect x="870" y="469" width="3" height="10" fill="#ff0000" />
<rect x="874" y="469" width="3" height="10" fill="#008000" />
<rect x="878" y="468" width="3" height="11" fill="#008000" />
<rect x="882" y="467" width="3" height="12" fill="#008000" />
<rect x="886" y="466" width="3" height="13" fill="#008000" />
<rect x="890" y="466" width="3" height="13" fill="#008000" />
<rect x="894" y="466" width="3" height="13" fill="#ff0000" />
<rect x="898" y="467" width="3" height="12" fill="#ff0000" />
<rect x="902" y="467" width="3" height="12" fill="#ff0000" />
<rect x="906" y="468" width="3" height="11" fill="#ff0000" />
<rect x="910" y="468" width="3" height="11" fill="#008000" />
</g>
<g shape-rendering="crispEdges">
<line x1="3" y1="95.5" x2="1451" y2="95.5" stroke="#7088a0" stroke-width="1" />
<rect x="3" y="241" width="1" height="13" fill="#0082c4" />
<rect x="3" y="244" width="2" height="4" fill="#0082c4" />
<rect x="7" y="185" width="1" height="73" fill="#50b84a" />
<rect x="6" y="195" width="3" height="52" fill="#50b84a" />
<rect x="11" y="159" width="1" height="43" fill="#50b84a" />
<rect x="10" y="164" width="3" height="33" fill="#50b84a" />
<rect x="15" y="160" width="1" height="34" fill="#0082c4" />
<rect x="14" y="165" width="3" height="18" fill="#0082c4" />
<rect x="19" y="121" width="1" height="26" fill="#50b84a" />
<rect x="18" y="128" width="3" height="15" fill="#50b84a" />
<rect x="23" y="126" width="1" height="14" fill="#0082c4" />
<rect x="22" y="128" width="3" height="11" fill="#0082c4" />
<rect x="27" y="125" width="1" height="24" fill="#0082c4" />
<rect x="26" y="137" width="3" height="12" fill="#0082c4" />
<rect x="31" y="126" width="1" height="69" fill="#0082c4" />
<rect x="30" y="148" width="3" height="47" fill="#0082c4" />
<rect x="35" y="187" width="1" height="45" fill="#0082c4" />
<rect x="34" y="194" width="3" height="25" fill="#0082c4" />
<rect x="39" y="209" width="1" height="43" fill="#0082c4" />
<rect x="38" y="219" width="3" height="6" fill="#0082c4" />
<rect x="43" y="218" width="1" height="23" fill="#50b84a" />
<rect x="42" y="221" width="3" height="14" fill="#50b84a" />
<rect x="47" y="210" width="1" height="22" fill="#0082c4" />
<rect x="46" y="222" width="3" height="1" fill="#0082c4" />
<rect x="51" y="212" width="1" height="23" fill="#0082c4" />
<rect x="50" y="222" width="3" height="7" fill="#0082c4" />
<rect x="55" y="163" width="1" height="66" fill="#50b84a" />
<rect x="54" y="197" width="3" height="32" fill="#50b84a" />
<rect x="59" y="165" width="1" height="61" fill="#50b84a" />
<rect x="58" y="177" width="3" height="20" fill="#50b84a" />
<rect x="63" y="149" width="1" height="29" fill="#50b84a" />
<rect x="62" y="162" width="3" height="16" fill="#50b84a" />
<rect x="67" y="152" width="1" height="23" fill="#50b84a" />
<rect x="66" y="154" width="3" height="6" fill="#50b84a" />
<rect x="71" y="132" width="1" height="23" fill="#50b84a" />
<rect x="70" y="137" width="3" height="18" fill="#50b84a" />
<rect x="75" y="127" width="1" height="42" fill="#0082c4" />
<rect x="74" y="137" width="3" height="18" fill="#0082c4" />
<rect x="79" y="147" width="1" height="47" fill="#0082c4" />
<rect x="78" y="155" width="3" height="12" fill="#0082c4" />
<rect x="83" y="158" width="1" height="73" fill="#0082c4" />
<rect x="82" y="166" width="3" height="48" fill="#0082c4" />
<rect x="87" y="195" width="1" height="33" fill="#50b84a" />
<rect x="86" y="204" width="3" height="10" fill="#50b84a" />
<rect x="91" y="197" width="1" height="12" fill="#50b84a" />
<rect x="90" y="204" width="3" height="3" fill="#50b84a" />
<rect x="95" y="196" width="1" height="10" fill="#50b84a" />
<rect x="94" y="197" width="3" height="8" fill="#50b84a" />
<rect x="99" y="187" width="1" height="11" fill="#50b84a" />
<rect x="98" y="190" width="3" height="8" fill="#50b84a" />
<rect x="103" y="187" width="1" height="43" fill="#0082c4" />
<rect x="102" y="190" width="3" height="11" fill="#0082c4" />
<rect x="107" y="141" width="1" height="77" fill="#50b84a" />
<rect x="106" y="170" width="3" height="31" fill="#50b84a" />
<rect x="111" y="154" width="1" height="19" fill="#50b84a" />
<rect x="110" y="168" width="3" height="3" fill="#50b84a" />
<rect x="115" y="162" width="1" height="10" fill="#50b84a" />
<rect x="114" y="163" width="3" height="8" fill="#50b84a" />
<rect x="119" y="152" width="1" height="18" fill="#0082c4" />
<rect x="118" y="163" width="3" height="5" fill="#0082c4" />
<rect x="123" y="164" width="1" height="13" fill="#0082c4" />
<rect x="122" y="166" width="3" height="3" fill="#0082c4" />
<rect x="127" y="147" width="1" height="39" fill="#50b84a" />
<rect x="126" y="164" width="3" height="5" fill="#50b84a" />
<rect x="131" y="158" width="1" height="31" fill="#0082c4" />
<rect x="130" y="163" width="3" height="25" fill="#0082c4" />
<rect x="135" y="171" width="1" height="32" fill="#50b84a" />
<rect x="134" y="176" width="3" height="12" fill="#50b84a" />
<rect x="139" y="174" width="1" height="21" fill="#0082c4" />
<rect x="138" y="174" width="3" height="5" fill="#0082c4" />
<rect x="143" y="177" width="1" height="23" fill="#0082c4" />
<rect x="142" y="179" width="3" height="20" fill="#0082c4" />
<rect x="147" y="174" width="1" height="31" fill="#50b84a" />
<rect x="146" y="178" width="3" height="21" fill="#50b84a" />
<rect x="151" y="122" width="1" height="76" fill="#0082c4" />
<rect x="150" y="178" width="3" height="19" fill="#0082c4" />
<rect x="155" y="158" width="1" height="49" fill="#50b84a" />
<rect x="154" y="193" width="3" height="4" fill="#50b84a" />
<rect x="159" y="155" width="1" height="40" fill="#50b84a" />
<rect x="158" y="156" width="3" height="38" fill="#50b84a" />
<rect x="163" y="156" width="1" height="15" fill="#0082c4" />
<rect x="162" y="158" width="3" height="2" fill="#0082c4" />
<rect x="167" y="153" width="1" height="8" fill="#50b84a" />
<rect x="166" y="159" width="3" height="2" fill="#50b84a" />
<rect x="171" y="147" width="1" height="14" fill="#0082c4" />
<rect x="170" y="159" width="3" height="2" fill="#0082c4" />
<rect x="175" y="149" width="1" height="42" fill="#0082c4" />
<rect x="174" y="159" width="3" height="8" fill="#0082c4" />
<rect x="179" y="164" width="1" height="35" fill="#0082c4" />
<rect x="178" y="166" width="3" height="22" fill="#0082c4" />
<rect x="183" y="176" width="1" height="23" fill="#50b84a" />
<rect x="182" y="186" width="3" height="2" fill="#50b84a" />
<rect x="187" y="185" width="1" height="10" fill="#50b84a" />
<rect x="186" y="186" width="3" height="4" fill="#50b84a" />
<rect x="191" y="174" width="1" height="12" fill="#50b84a" />
<rect x="190" y="176" width="3" height="10" fill="#50b84a" />
<rect x="195" y="173" width="1" height="15" fill="#0082c4" />
<rect x="194" y="176" width="3" height="7" fill="#0082c4" />
<rect x="199" y="178" width="1" height="81" fill="#0082c4" />
<rect x="198" y="182" width="3" height="55" fill="#0082c4" />
<rect x="203" y="217" width="1" height="23" fill="#50b84a" />
<rect x="202" y="219" width="3" height="19" fill="#50b84a" />
<rect x="207" y="215" width="1" height="30" fill="#0082c4" />
<rect x="206" y="219" width="3" height="20" fill="#0082c4" />
<rect x="211" y="237" width="1" height="13" fill="#0082c4" />
<rect x="210" y="238" width="3" height="8" fill="#0082c4" />
<rect x="215" y="236" width="1" height="17" fill="#50b84a" />
<rect x="214" y="238" width="3" height="8" fill="#50b84a" />
<rect x="219" y="237" width="1" height="24" fill="#0082c4" />
<rect x="218" y="238" width="3" height="18" fill="#0082c4" />
<rect x="223" y="250" width="1" height="32" fill="#0082c4" />
<rect x="222" y="254" width="3" height="18" fill="#0082c4" />
<rect x="227" y="261" width="1" height="42" fill="#0082c4" />
<rect x="226" y="272" width="3" height="24" fill="#0082c4" />
<rect x="231" y="282" width="1" height="22" fill="#50b84a" />
<rect x="230" y="293" width="3" height="4" fill="#50b84a" />
<rect x="235" y="296" width="1" height="13" fill="#0082c4" />
<rect x="234" y="296" width="3" height="2" fill="#0082c4" />
<rect x="239" y="286" width="1" height="13" fill="#50b84a" />
<rect x="238" y="293" width="3" height="5" fill="#50b84a" />
<rect x="243" y="291" width="1" height="19" fill="#0082c4" />
<rect x="242" y="293" width="3" height="10" fill="#0082c4" />
<rect x="247" y="270" width="1" height="39" fill="#50b84a" />
<rect x="246" y="283" width="3" height="19" fill="#50b84a" />
<rect x="251" y="263" width="1" height="32" fill="#50b84a" />
<rect x="250" y="271" width="3" height="13" fill="#50b84a" />
<rect x="255" y="264" width="1" height="14" fill="#0082c4" />
<rect x="254" y="272" width="3" height="3" fill="#0082c4" />
<rect x="259" y="225" width="1" height="17" fill="#0082c4" />
<rect x="258" y="231" width="3" height="9" fill="#0082c4" />
<rect x="263" y="229" width="1" height="11" fill="#50b84a" />
<rect x="262" y="231" width="3" height="9" fill="#50b84a" />
<rect x="267" y="225" width="1" height="10" fill="#50b84a" />
<rect x="266" y="226" width="3" height="5" fill="#50b84a" />
<rect x="271" y="193" width="1" height="36" fill="#50b84a" />
<rect x="270" y="207" width="3" height="19" fill="#50b84a" />
<rect x="275" y="202" width="1" height="21" fill="#0082c4" />
<rect x="274" y="206" width="3" height="8" fill="#0082c4" />
<rect x="279" y="208" width="1" height="21" fill="#0082c4" />
<rect x="278" y="214" width="3" height="13" fill="#0082c4" />
<rect x="283" y="212" width="1" height="26" fill="#50b84a" />
<rect x="282" y="214" width="3" height="13" fill="#50b84a" />
<rect x="287" y="210" width="1" height="17" fill="#0082c4" />
<rect x="286" y="213" width="3" height="14" fill="#0082c4" />
<rect x="291" y="222" width="1" height="11" fill="#0082c4" />
<rect x="290" y="226" width="3" height="6" fill="#0082c4" />
<rect x="295" y="220" width="1" height="34" fill="#0082c4" />
<rect x="294" y="231" width="3" height="6" fill="#0082c4" />
<rect x="299" y="233" width="1" height="17" fill="#0082c4" />
<rect x="298" y="235" width="3" height="15" fill="#0082c4" />
<rect x="303" y="246" width="1" height="14" fill="#0082c4" />
<rect x="302" y="249" width="3" height="3" fill="#0082c4" />
<rect x="307" y="248" width="1" height="7" fill="#0082c4" />
<rect x="306" y="249" width="3" height="1" fill="#0082c4" />
<rect x="311" y="243" width="1" height="18" fill="#0082c4" />
<rect x="310" y="248" width="3" height="11" fill="#0082c4" />
<rect x="315" y="247" width="1" height="13" fill="#50b84a" />
<rect x="314" y="248" width="3" height="12" fill="#50b84a" />
<rect x="319" y="232" width="1" height="40" fill="#0082c4" />
<rect x="318" y="247" width="3" height="15" fill="#0082c4" />
<rect x="323" y="237" width="1" height="35" fill="#50b84a" />
<rect x="322" y="248" width="3" height="15" fill="#50b84a" />
<rect x="327" y="238" width="1" height="18" fill="#50b84a" />
<rect x="326" y="248" width="3" height="2" fill="#50b84a" />
<rect x="331" y="247" width="1" height="5" fill="#50b84a" />
<rect x="330" y="248" width="3" height="2" fill="#50b84a" />
<rect x="335" y="247" width="1" height="17" fill="#0082c4" />
<rect x="334" y="247" width="3" height="14" fill="#0082c4" />
<rect x="339" y="257" width="1" height="25" fill="#0082c4" />
<rect x="338" y="259" width="3" height="17" fill="#0082c4" />
<rect x="343" y="261" width="1" height="42" fill="#50b84a" />
<rect x="342" y="264" width="3" height="12" fill="#50b84a" />
<rect x="347" y="260" width="1" height="46" fill="#0082c4" />
<rect x="346" y="264" width="3" height="36" fill="#0082c4" />
<rect x="351" y="287" width="1" height="15" fill="#50b84a" />
<rect x="350" y="297" width="3" height="3" fill="#50b84a" />
<rect x="355" y="291" width="1" height="12" fill="#0082c4" />
<rect x="354" y="292" width="3" height="9" fill="#0082c4" />
<rect x="359" y="299" width="1" height="26" fill="#0082c4" />
<rect x="358" y="300" width="3" height="18" fill="#0082c4" />
<rect x="363" y="301" width="1" height="21" fill="#50b84a" />
<rect x="362" y="301" width="3" height="17" fill="#50b84a" />
<rect x="367" y="293" width="1" height="39" fill="#0082c4" />
<rect x="366" y="301" width="3" height="18" fill="#0082c4" />
<rect x="371" y="313" width="1" height="24" fill="#0082c4" />
<rect x="370" y="318" width="3" height="4" fill="#0082c4" />
<rect x="375" y="319" width="1" height="9" fill="#0082c4" />
<rect x="374" y="322" width="3" height="3" fill="#0082c4" />
<rect x="379" y="311" width="1" height="16" fill="#50b84a" />
<rect x="378" y="311" width="3" height="15" fill="#50b84a" />
<rect x="383" y="306" width="1" height="14" fill="#0082c4" />
<rect x="382" y="312" width="3" height="1" fill="#0082c4" />
<rect x="387" y="305" width="1" height="14" fill="#0082c4" />
<rect x="386" y="309" width="3" height="9" fill="#0082c4" />
<rect x="391" y="306" width="1" height="38" fill="#0082c4" />
<rect x="390" y="317" width="3" height="12" fill="#0082c4" />
<rect x="395" y="324" width="1" height="24" fill="#0082c4" />
<rect x="394" y="328" width="3" height="11" fill="#0082c4" />
<rect x="399" y="331" width="1" height="16" fill="#50b84a" />
<rect x="398" y="335" width="3" height="5" fill="#50b84a" />
<rect x="403" y="330" width="1" height="18" fill="#50b84a" />
<rect x="402" y="331" width="3" height="13" fill="#50b84a" />
<rect x="407" y="331" width="1" height="11" fill="#0082c4" />
<rect x="406" y="331" width="3" height="11" fill="#0082c4" />
<rect x="411" y="324" width="1" height="18" fill="#50b84a" />
<rect x="410" y="326" width="3" height="16" fill="#50b84a" />
<rect x="415" y="282" width="1" height="45" fill="#50b84a" />
<rect x="414" y="293" width="3" height="34" fill="#50b84a" />
<rect x="419" y="272" width="1" height="25" fill="#50b84a" />
<rect x="418" y="277" width="3" height="17" fill="#50b84a" />
<rect x="423" y="267" width="1" height="16" fill="#50b84a" />
<rect x="422" y="269" width="3" height="9" fill="#50b84a" />
<rect x="427" y="279" width="1" height="1" fill="#0082c4" />
<rect x="426" y="279" width="3" height="1" fill="#0082c4" />
<rect x="431" y="275" width="1" height="14" fill="#0082c4" />
<rect x="430" y="279" width="3" height="7" fill="#0082c4" />
<rect x="435" y="277" width="1" height="23" fill="#50b84a" />
<rect x="434" y="279" width="3" height="7" fill="#50b84a" />
<rect x="439" y="271" width="1" height="33" fill="#0082c4" />
<rect x="438" y="279" width="3" height="22" fill="#0082c4" />
<rect x="443" y="268" width="1" height="37" fill="#50b84a" />
<rect x="442" y="282" width="3" height="20" fill="#50b84a" />
<rect x="447" y="271" width="1" height="23" fill="#0082c4" />
<rect x="446" y="282" width="3" height="3" fill="#0082c4" />
<rect x="451" y="279" width="1" height="11" fill="#50b84a" />
<rect x="450" y="280" width="3" height="9" fill="#50b84a" />
<rect x="455" y="279" width="1" height="8" fill="#0082c4" />
<rect x="454" y="281" width="3" height="6" fill="#0082c4" />
<rect x="459" y="281" width="1" height="15" fill="#50b84a" />
<rect x="458" y="282" width="3" height="4" fill="#50b84a" />
<rect x="463" y="264" width="1" height="26" fill="#50b84a" />
<rect x="462" y="270" width="3" height="12" fill="#50b84a" />
<rect x="467" y="210" width="1" height="63" fill="#50b84a" />
<rect x="466" y="210" width="3" height="62" fill="#50b84a" />
<rect x="471" y="182" width="1" height="33" fill="#50b84a" />
<rect x="470" y="212" width="3" height="2" fill="#50b84a" />
<rect x="475" y="207" width="1" height="20" fill="#50b84a" />
<rect x="474" y="220" width="3" height="6" fill="#50b84a" />
<rect x="479" y="209" width="1" height="11" fill="#50b84a" />
<rect x="478" y="212" width="3" height="8" fill="#50b84a" />
<rect x="483" y="204" width="1" height="24" fill="#0082c4" />
<rect x="482" y="213" width="3" height="11" fill="#0082c4" />
<rect x="487" y="201" width="1" height="41" fill="#0082c4" />
<rect x="486" y="222" width="3" height="16" fill="#0082c4" />
<rect x="491" y="222" width="1" height="22" fill="#50b84a" />
<rect x="490" y="235" width="3" height="3" fill="#50b84a" />
<rect x="495" y="232" width="1" height="14" fill="#0082c4" />
<rect x="494" y="234" width="3" height="9" fill="#0082c4" />
<rect x="499" y="240" width="1" height="17" fill="#0082c4" />
<rect x="498" y="245" width="3" height="12" fill="#0082c4" />
<rect x="503" y="254" width="1" height="6" fill="#0082c4" />
<rect x="502" y="256" width="3" height="4" fill="#0082c4" />
<rect x="507" y="253" width="1" height="9" fill="#50b84a" />
<rect x="506" y="254" width="3" height="6" fill="#50b84a" />
<rect x="511" y="241" width="1" height="65" fill="#0082c4" />
<rect x="510" y="254" width="3" height="45" fill="#0082c4" />
<rect x="515" y="290" width="1" height="22" fill="#0082c4" />
<rect x="514" y="298" width="3" height="3" fill="#0082c4" />
<rect x="519" y="290" width="1" height="20" fill="#50b84a" />
<rect x="518" y="294" width="3" height="7" fill="#50b84a" />
<rect x="523" y="292" width="1" height="9" fill="#0082c4" />
<rect x="522" y="297" width="3" height="4" fill="#0082c4" />
<rect x="527" y="291" width="1" height="13" fill="#50b84a" />
<rect x="526" y="294" width="3" height="7" fill="#50b84a" />
<rect x="531" y="291" width="1" height="19" fill="#0082c4" />
<rect x="530" y="293" width="3" height="4" fill="#0082c4" />
<rect x="535" y="286" width="1" height="42" fill="#0082c4" />
<rect x="534" y="295" width="3" height="19" fill="#0082c4" />
<rect x="539" y="312" width="1" height="28" fill="#0082c4" />
<rect x="538" y="315" width="3" height="21" fill="#0082c4" />
<rect x="543" y="328" width="1" height="20" fill="#0082c4" />
<rect x="542" y="336" width="3" height="10" fill="#0082c4" />
<rect x="547" y="347" width="1" height="10" fill="#0082c4" />
<rect x="546" y="349" width="3" height="6" fill="#0082c4" />
<rect x="551" y="352" width="1" height="3" fill="#50b84a" />
<rect x="550" y="352" width="3" height="3" fill="#50b84a" />
<rect x="555" y="351" width="1" height="7" fill="#0082c4" />
<rect x="554" y="353" width="3" height="4" fill="#0082c4" />
<rect x="559" y="308" width="1" height="59" fill="#50b84a" />
<rect x="558" y="308" width="3" height="50" fill="#50b84a" />
<rect x="563" y="290" width="1" height="27" fill="#50b84a" />
<rect x="562" y="291" width="3" height="18" fill="#50b84a" />
<rect x="567" y="290" width="1" height="15" fill="#0082c4" />
<rect x="566" y="290" width="3" height="9" fill="#0082c4" />
<rect x="571" y="293" width="1" height="11" fill="#50b84a" />
<rect x="570" y="299" width="3" height="3" fill="#50b84a" />
<rect x="575" y="296" width="1" height="11" fill="#0082c4" />
<rect x="574" y="300" width="3" height="5" fill="#0082c4" />
<rect x="579" y="299" width="1" height="18" fill="#0082c4" />
<rect x="578" y="304" width="3" height="13" fill="#0082c4" />
<rect x="583" y="271" width="1" height="53" fill="#50b84a" />
<rect x="582" y="282" width="3" height="36" fill="#50b84a" />
<rect x="587" y="251" width="1" height="46" fill="#50b84a" />
<rect x="586" y="252" width="3" height="31" fill="#50b84a" />
<rect x="591" y="242" width="1" height="26" fill="#0082c4" />
<rect x="590" y="252" width="3" height="15" fill="#0082c4" />
<rect x="595" y="257" width="1" height="11" fill="#50b84a" />
<rect x="594" y="259" width="3" height="8" fill="#50b84a" />
<rect x="599" y="253" width="1" height="16" fill="#0082c4" />
<rect x="598" y="258" width="3" height="7" fill="#0082c4" />
<rect x="603" y="261" width="1" height="19" fill="#0082c4" />
<rect x="602" y="265" width="3" height="9" fill="#0082c4" />
<rect x="607" y="244" width="1" height="34" fill="#50b84a" />
<rect x="606" y="253" width="3" height="22" fill="#50b84a" />
<rect x="611" y="245" width="1" height="27" fill="#0082c4" />
<rect x="610" y="252" width="3" height="14" fill="#0082c4" />
<rect x="615" y="256" width="1" height="17" fill="#0082c4" />
<rect x="614" y="264" width="3" height="8" fill="#0082c4" />
<rect x="619" y="255" width="1" height="14" fill="#50b84a" />
<rect x="618" y="255" width="3" height="6" fill="#50b84a" />
<rect x="623" y="249" width="1" height="9" fill="#50b84a" />
<rect x="622" y="251" width="3" height="6" fill="#50b84a" />
<rect x="627" y="234" width="1" height="22" fill="#50b84a" />
<rect x="626" y="240" width="3" height="12" fill="#50b84a" />
<rect x="631" y="220" width="1" height="25" fill="#0082c4" />
<rect x="630" y="239" width="3" height="2" fill="#0082c4" />
<rect x="635" y="224" width="1" height="24" fill="#50b84a" />
<rect x="634" y="230" width="3" height="12" fill="#50b84a" />
<rect x="639" y="230" width="1" height="23" fill="#0082c4" />
<rect x="638" y="230" width="3" height="17" fill="#0082c4" />
<rect x="643" y="239" width="1" height="17" fill="#50b84a" />
<rect x="642" y="241" width="3" height="14" fill="#50b84a" />
<rect x="647" y="233" width="1" height="13" fill="#0082c4" />
<rect x="646" y="240" width="3" height="1" fill="#0082c4" />
<rect x="651" y="227" width="1" height="16" fill="#50b84a" />
<rect x="650" y="238" width="3" height="3" fill="#50b84a" />
<rect x="655" y="213" width="1" height="39" fill="#50b84a" />
<rect x="654" y="218" width="3" height="22" fill="#50b84a" />
<rect x="659" y="209" width="1" height="18" fill="#0082c4" />
<rect x="658" y="217" width="3" height="4" fill="#0082c4" />
<rect x="663" y="213" width="1" height="10" fill="#50b84a" />
<rect x="662" y="217" width="3" height="4" fill="#50b84a" />
<rect x="667" y="202" width="1" height="18" fill="#50b84a" />
<rect x="666" y="212" width="3" height="7" fill="#50b84a" />
<rect x="671" y="207" width="1" height="6" fill="#0082c4" />
<rect x="670" y="211" width="3" height="2" fill="#0082c4" />
<rect x="675" y="211" width="1" height="13" fill="#0082c4" />
<rect x="674" y="211" width="3" height="12" fill="#0082c4" />
<rect x="679" y="194" width="1" height="41" fill="#50b84a" />
<rect x="678" y="219" width="3" height="4" fill="#50b84a" />
<rect x="683" y="189" width="1" height="36" fill="#50b84a" />
<rect x="682" y="192" width="3" height="28" fill="#50b84a" />
<rect x="687" y="191" width="1" height="17" fill="#0082c4" />
<rect x="686" y="192" width="3" height="13" fill="#0082c4" />
<rect x="691" y="198" width="1" height="10" fill="#50b84a" />
<rect x="690" y="199" width="3" height="8" fill="#50b84a" />
<rect x="695" y="194" width="1" height="9" fill="#50b84a" />
<rect x="694" y="195" width="3" height="6" fill="#50b84a" />
<rect x="699" y="193" width="1" height="18" fill="#0082c4" />
<rect x="698" y="195" width="3" height="12" fill="#0082c4" />
<rect x="703" y="201" width="1" height="23" fill="#0082c4" />
<rect x="702" y="207" width="3" height="12" fill="#0082c4" />
<rect x="707" y="136" width="1" height="87" fill="#50b84a" />
<rect x="706" y="149" width="3" height="70" fill="#50b84a" />
<rect x="711" y="144" width="1" height="29" fill="#0082c4" />
<rect x="710" y="150" width="3" height="19" fill="#0082c4" />
<rect x="715" y="164" width="1" height="8" fill="#50b84a" />
<rect x="714" y="166" width="3" height="5" fill="#50b84a" />
<rect x="719" y="152" width="1" height="15" fill="#50b84a" />
<rect x="718" y="152" width="3" height="14" fill="#50b84a" />
<rect x="723" y="151" width="1" height="11" fill="#0082c4" />
<rect x="722" y="152" width="3" height="6" fill="#0082c4" />
<rect x="727" y="155" width="1" height="26" fill="#0082c4" />
<rect x="726" y="158" width="3" height="23" fill="#0082c4" />
<rect x="731" y="161" width="1" height="23" fill="#50b84a" />
<rect x="730" y="167" width="3" height="14" fill="#50b84a" />
<rect x="735" y="163" width="1" height="15" fill="#0082c4" />
<rect x="734" y="167" width="3" height="9" fill="#0082c4" />
<rect x="739" y="170" width="1" height="8" fill="#50b84a" />
<rect x="738" y="172" width="3" height="5" fill="#50b84a" />
<rect x="743" y="164" width="1" height="14" fill="#0082c4" />
<rect x="742" y="173" width="3" height="4" fill="#0082c4" />
<rect x="747" y="170" width="1" height="16" fill="#0082c4" />
<rect x="746" y="177" width="3" height="7" fill="#0082c4" />
<rect x="751" y="168" width="1" height="48" fill="#0082c4" />
<rect x="750" y="184" width="3" height="22" fill="#0082c4" />
<rect x="755" y="197" width="1" height="17" fill="#0082c4" />
<rect x="754" y="206" width="3" height="4" fill="#0082c4" />
<rect x="759" y="198" width="1" height="12" fill="#50b84a" />
<rect x="758" y="200" width="3" height="9" fill="#50b84a" />
<rect x="763" y="194" width="1" height="15" fill="#0082c4" />
<rect x="762" y="202" width="3" height="5" fill="#0082c4" />
<rect x="767" y="204" width="1" height="5" fill="#50b84a" />
<rect x="766" y="204" width="3" height="3" fill="#50b84a" />
<rect x="771" y="202" width="1" height="26" fill="#0082c4" />
<rect x="770" y="204" width="3" height="24" fill="#0082c4" />
<rect x="775" y="176" width="1" height="52" fill="#50b84a" />
<rect x="774" y="177" width="3" height="51" fill="#50b84a" />
<rect x="779" y="170" width="1" height="50" fill="#0082c4" />
<rect x="778" y="176" width="3" height="28" fill="#0082c4" />
<rect x="783" y="198" width="1" height="8" fill="#50b84a" />
<rect x="782" y="200" width="3" height="4" fill="#50b84a" />
<rect x="787" y="201" width="1" height="11" fill="#0082c4" />
<rect x="786" y="202" width="3" height="7" fill="#0082c4" />
<rect x="791" y="205" width="1" height="11" fill="#0082c4" />
<rect x="790" y="208" width="3" height="7" fill="#0082c4" />
<rect x="795" y="206" width="1" height="11" fill="#0082c4" />
<rect x="794" y="214" width="3" height="2" fill="#0082c4" />
<rect x="799" y="184" width="1" height="33" fill="#50b84a" />
<rect x="798" y="208" width="3" height="8" fill="#50b84a" />
<rect x="803" y="204" width="1" height="12" fill="#0082c4" />
<rect x="802" y="208" width="3" height="8" fill="#0082c4" />
<rect x="807" y="213" width="1" height="10" fill="#0082c4" />
<rect x="806" y="215" width="3" height="6" fill="#0082c4" />
<rect x="811" y="214" width="1" height="8" fill="#50b84a" />
<rect x="810" y="215" width="3" height="6" fill="#50b84a" />
<rect x="815" y="205" width="1" height="11" fill="#50b84a" />
<rect x="814" y="207" width="3" height="9" fill="#50b84a" />
<rect x="819" y="204" width="1" height="12" fill="#0082c4" />
<rect x="818" y="207" width="3" height="9" fill="#0082c4" />
<rect x="823" y="203" width="1" height="39" fill="#0082c4" />
<rect x="822" y="214" width="3" height="25" fill="#0082c4" />
<rect x="827" y="117" width="1" height="122" fill="#50b84a" />
<rect x="826" y="128" width="3" height="111" fill="#50b84a" />
<rect x="831" y="116" width="1" height="13" fill="#50b84a" />
<rect x="830" y="121" width="3" height="8" fill="#50b84a" />
<rect x="835" y="96" width="1" height="31" fill="#0082c4" />
<rect x="834" y="111" width="3" height="9" fill="#0082c4" />
<rect x="839" y="110" width="1" height="14" fill="#50b84a" />
<rect x="838" y="111" width="3" height="10" fill="#50b84a" />
<rect x="843" y="107" width="1" height="11" fill="#0082c4" />
<rect x="842" y="111" width="3" height="3" fill="#0082c4" />
<rect x="847" y="96" width="1" height="24" fill="#50b84a" />
<rect x="846" y="108" width="3" height="6" fill="#50b84a" />
<rect x="851" y="107" width="1" height="28" fill="#0082c4" />
<rect x="850" y="107" width="3" height="23" fill="#0082c4" />
<rect x="855" y="126" width="1" height="19" fill="#0082c4" />
<rect x="854" y="128" width="3" height="15" fill="#0082c4" />
<rect x="859" y="137" width="1" height="7" fill="#50b84a" />
<rect x="858" y="139" width="3" height="3" fill="#50b84a" />
<rect x="863" y="134" width="1" height="6" fill="#50b84a" />
<rect x="862" y="136" width="3" height="3" fill="#50b84a" />
<rect x="867" y="135" width="1" height="14" fill="#0082c4" />
<rect x="866" y="136" width="3" height="6" fill="#0082c4" />
<rect x="871" y="121" width="1" height="28" fill="#50b84a" />
<rect x="870" y="130" width="3" height="13" fill="#50b84a" />
<rect x="875" y="118" width="1" height="15" fill="#50b84a" />
<rect x="874" y="123" width="3" height="7" fill="#50b84a" />
<rect x="879" y="111" width="1" height="15" fill="#50b84a" />
<rect x="878" y="112" width="3" height="12" fill="#50b84a" />
<rect x="883" y="110" width="1" height="5" fill="#0082c4" />
<rect x="882" y="112" width="3" height="3" fill="#0082c4" />
<rect x="887" y="114" width="1" height="12" fill="#0082c4" />
<rect x="886" y="114" width="3" height="11" fill="#0082c4" />
<rect x="891" y="117" width="1" height="9" fill="#50b84a" />
<rect x="890" y="123" width="3" height="2" fill="#50b84a" />
<rect x="895" y="98" width="1" height="28" fill="#50b84a" />
<rect x="894" y="104" width="3" height="19" fill="#50b84a" />
<rect x="899" y="101" width="1" height="15" fill="#0082c4" />
<rect x="898" y="104" width="3" height="5" fill="#0082c4" />
<rect x="903" y="107" width="1" height="20" fill="#0082c4" />
<rect x="902" y="107" width="3" height="19" fill="#0082c4" />
<rect x="907" y="103" width="1" height="39" fill="#50b84a" />
<rect x="906" y="109" width="3" height="20" fill="#50b84a" />
<rect x="911" y="92" width="1" height="19" fill="#50b84a" />
<rect x="910" y="96" width="3" height="14" fill="#50b84a" />
<line x1="903" y1="11.5" x2="927" y2="11.5" stroke="#000" stroke-width="1" />
<line x1="903" y1="58.5" x2="927" y2="58.5" stroke="#000" stroke-width="1" />
<line x1="903" y1="106.5" x2="927" y2="106.5" stroke="#000" stroke-width="1" />
<line x1="903" y1="136.5" x2="927" y2="136.5" stroke="#000" stroke-width="1" />
<line x1="903" y1="183.5" x2="927" y2="183.5" stroke="#000" stroke-width="1" />
<line x1="903" y1="231.5" x2="927" y2="231.5" stroke="#000" stroke-width="1" />
<line x1="903" y1="260.5" x2="927" y2="260.5" stroke="#000" stroke-width="1" />
<line x1="903" y1="308.5" x2="927" y2="308.5" stroke="#000" stroke-width="1" />
</g>
<line x1="559.5" y1="367.6" x2="1180" y2="65.8" stroke="#0000ff" stroke-width="2.2" shape-rendering="crispEdges"/>
<g shape-rendering="crispEdges" fill="#000">
<rect x="2" y="2" width="1" height="730" fill="#000" />
<rect x="1451" y="2" width="1" height="730" fill="#000" />
<rect x="2" y="2" width="1450" height="1" fill="#000" />
<rect x="2" y="449" width="1450" height="1" fill="#000" />
<rect x="2" y="451" width="1450" height="1" fill="#000" />
<rect x="2" y="592" width="1450" height="1" fill="#000" />
<rect x="2" y="594" width="1450" height="1" fill="#000" />
<rect x="2" y="731" width="1450" height="1" fill="#000" />
<rect x="0" y="450" width="1491" height="1" fill="#ffffff" />
<rect x="0" y="593" width="1491" height="1" fill="#ffffff" />
<rect x="1452" y="11" width="2" height="1" fill="#000" />
<rect x="1452" y="44" width="2" height="1" fill="#000" />
<rect x="1452" y="78" width="2" height="1" fill="#000" />
<rect x="1452" y="111" width="2" height="1" fill="#000" />
<rect x="1452" y="145" width="2" height="1" fill="#000" />
<rect x="1452" y="178" width="2" height="1" fill="#000" />
<rect x="1452" y="212" width="2" height="1" fill="#000" />
<rect x="1452" y="245" width="2" height="1" fill="#000" />
<rect x="1452" y="279" width="2" height="1" fill="#000" />
<rect x="1452" y="312" width="2" height="1" fill="#000" />
<rect x="1452" y="346" width="2" height="1" fill="#000" />
<rect x="1452" y="379" width="2" height="1" fill="#000" />
<rect x="1452" y="413" width="2" height="1" fill="#000" />
<rect x="1452" y="446" width="2" height="1" fill="#000" />
<rect x="1452" y="479" width="2" height="1" fill="#000" />
<rect x="1452" y="619" width="2" height="1" fill="#000" />
<rect x="1452" y="453" width="2" height="1" fill="#000" />
<rect x="1452" y="591" width="2" height="1" fill="#000" />
<rect x="1452" y="596" width="2" height="1" fill="#000" />
<rect x="1452" y="730" width="2" height="1" fill="#000" />
<rect x="3" y="732" width="1" height="3" fill="#000" />
<rect x="67" y="732" width="1" height="3" fill="#000" />
<rect x="131" y="732" width="1" height="3" fill="#000" />
<rect x="195" y="732" width="1" height="3" fill="#000" />
<rect x="259" y="732" width="1" height="3" fill="#000" />
<rect x="323" y="732" width="1" height="3" fill="#000" />
<rect x="387" y="732" width="1" height="3" fill="#000" />
<rect x="451" y="732" width="1" height="3" fill="#000" />
<rect x="515" y="732" width="1" height="3" fill="#000" />
<rect x="579" y="732" width="1" height="3" fill="#000" />
<rect x="643" y="732" width="1" height="3" fill="#000" />
<rect x="707" y="732" width="1" height="3" fill="#000" />
<rect x="771" y="732" width="1" height="3" fill="#000" />
<rect x="835" y="732" width="1" height="3" fill="#000" />
<rect x="899" y="732" width="1" height="3" fill="#000" />
</g>
<text x="1457" y="14" font-size="9.8" fill="#000" font-family="'Liberation Sans', sans-serif" textLength="23" lengthAdjust="spacingAndGlyphs" stroke="#000" stroke-width="0.12" >4.965</text>
<text x="1457" y="47" font-size="9.8" fill="#000" font-family="'Liberation Sans', sans-serif" textLength="23" lengthAdjust="spacingAndGlyphs" stroke="#000" stroke-width="0.12" >4.895</text>
<text x="1457" y="81" font-size="9.8" fill="#000" font-family="'Liberation Sans', sans-serif" textLength="23" lengthAdjust="spacingAndGlyphs" stroke="#000" stroke-width="0.12" >4.825</text>
<text x="1457" y="114" font-size="9.8" fill="#000" font-family="'Liberation Sans', sans-serif" textLength="23" lengthAdjust="spacingAndGlyphs" stroke="#000" stroke-width="0.12" >4.755</text>
<text x="1457" y="148" font-size="9.8" fill="#000" font-family="'Liberation Sans', sans-serif" textLength="23" lengthAdjust="spacingAndGlyphs" stroke="#000" stroke-width="0.12" >4.685</text>
<text x="1457" y="181" font-size="9.8" fill="#000" font-family="'Liberation Sans', sans-serif" textLength="23" lengthAdjust="spacingAndGlyphs" stroke="#000" stroke-width="0.12" >4.615</text>
<text x="1457" y="215" font-size="9.8" fill="#000" font-family="'Liberation Sans', sans-serif" textLength="23" lengthAdjust="spacingAndGlyphs" stroke="#000" stroke-width="0.12" >4.545</text>
<text x="1457" y="248" font-size="9.8" fill="#000" font-family="'Liberation Sans', sans-serif" textLength="23" lengthAdjust="spacingAndGlyphs" stroke="#000" stroke-width="0.12" >4.475</text>
<text x="1457" y="282" font-size="9.8" fill="#000" font-family="'Liberation Sans', sans-serif" textLength="23" lengthAdjust="spacingAndGlyphs" stroke="#000" stroke-width="0.12" >4.405</text>
<text x="1457" y="315" font-size="9.8" fill="#000" font-family="'Liberation Sans', sans-serif" textLength="23" lengthAdjust="spacingAndGlyphs" stroke="#000" stroke-width="0.12" >4.335</text>
<text x="1457" y="349" font-size="9.8" fill="#000" font-family="'Liberation Sans', sans-serif" textLength="23" lengthAdjust="spacingAndGlyphs" stroke="#000" stroke-width="0.12" >4.265</text>
<text x="1457" y="382" font-size="9.8" fill="#000" font-family="'Liberation Sans', sans-serif" textLength="23" lengthAdjust="spacingAndGlyphs" stroke="#000" stroke-width="0.12" >4.195</text>
<text x="1457" y="416" font-size="9.8" fill="#000" font-family="'Liberation Sans', sans-serif" textLength="23" lengthAdjust="spacingAndGlyphs" stroke="#000" stroke-width="0.12" >4.125</text>
<text x="1457" y="449" font-size="9.8" fill="#000" font-family="'Liberation Sans', sans-serif" textLength="23" lengthAdjust="spacingAndGlyphs" stroke="#000" stroke-width="0.12" >4.055</text>
<rect x="1453" y="89" width="31" height="11" fill="#000" shape-rendering="crispEdges"/>
<text x="1457" y="98" font-size="9.8" fill="#fff" font-family="'Liberation Sans', sans-serif" textLength="23" lengthAdjust="spacingAndGlyphs" stroke="#fff" stroke-width="0.12" >4.789</text>
<text x="1455" y="461.8" font-size="9.8" fill="#000" font-family="'Liberation Sans', sans-serif" textLength="28" lengthAdjust="spacingAndGlyphs" stroke="#000" stroke-width="0.12" >0.2078</text>
<text x="1455" y="481.4" font-size="9.8" fill="#000" font-family="'Liberation Sans', sans-serif" textLength="17.5" lengthAdjust="spacingAndGlyphs" stroke="#000" stroke-width="0.12" >0.00</text>
<text x="1455" y="588.2" font-size="9.8" fill="#000" font-family="'Liberation Sans', sans-serif" textLength="31" lengthAdjust="spacingAndGlyphs" stroke="#000" stroke-width="0.12" >-0.8676</text>
<text x="1455" y="604.3" font-size="9.8" fill="#000" font-family="'Liberation Sans', sans-serif" textLength="33" lengthAdjust="spacingAndGlyphs" stroke="#000" stroke-width="0.12" >0.05406</text>
<text x="1455" y="621.4" font-size="9.8" fill="#000" font-family="'Liberation Sans', sans-serif" textLength="17.5" lengthAdjust="spacingAndGlyphs" stroke="#000" stroke-width="0.12" >0.00</text>
<text x="1455" y="728" font-size="9.8" fill="#000" font-family="'Liberation Sans', sans-serif" textLength="36.5" lengthAdjust="spacingAndGlyphs" stroke="#000" stroke-width="0.12" >-0.25448</text>
<rect x="17" y="5" width="146" height="11" fill="#fbfefa" />
<polygon points="6,9 13,9 9.5,13" fill="#000"/>
<text x="18.5" y="14" font-size="9.8" fill="#000" font-family="'Liberation Sans', sans-serif" textLength="35.4" lengthAdjust="spacingAndGlyphs" stroke="#000" stroke-width="0.12" >#NG,H4</text>
<text x="60.0" y="14" font-size="9.8" fill="#000" font-family="'Liberation Sans', sans-serif" textLength="22.5" lengthAdjust="spacingAndGlyphs" stroke="#000" stroke-width="0.12" >4.760</text>
<text x="86.05" y="14" font-size="9.8" fill="#000" font-family="'Liberation Sans', sans-serif" textLength="22.5" lengthAdjust="spacingAndGlyphs" stroke="#000" stroke-width="0.12" >4.796</text>
<text x="112.1" y="14" font-size="9.8" fill="#000" font-family="'Liberation Sans', sans-serif" textLength="22.5" lengthAdjust="spacingAndGlyphs" stroke="#000" stroke-width="0.12" >4.758</text>
<text x="138.15" y="14" font-size="9.8" fill="#000" font-family="'Liberation Sans', sans-serif" textLength="22.5" lengthAdjust="spacingAndGlyphs" stroke="#000" stroke-width="0.12" >4.789</text>
<text x="7.3" y="463.9" font-size="9.8" fill="#000" font-family="'Liberation Sans', sans-serif" textLength="45.7" lengthAdjust="spacingAndGlyphs" stroke="#000" stroke-width="0.12" >AO 0.0873</text>
<text x="7.3" y="607" font-size="9.8" fill="#000" font-family="'Liberation Sans', sans-serif" textLength="104.5" lengthAdjust="spacingAndGlyphs" stroke="#000" stroke-width="0.12" >OsMA(36,72,27) 0.01586</text>
<text x="957.5" y="19.9" font-size="9.7" fill="#000" font-family="'Liberation Sans', sans-serif" textLength="42" lengthAdjust="spacingAndGlyphs" stroke="#000" stroke-width="0.1" >R3 4.9650</text>
<text x="957.5" y="67" font-size="9.7" fill="#000" font-family="'Liberation Sans', sans-serif" textLength="42" lengthAdjust="spacingAndGlyphs" stroke="#000" stroke-width="0.1" >R2 4.8660</text>
<text x="957.5" y="114.8" font-size="9.7" fill="#000" font-family="'Liberation Sans', sans-serif" textLength="42" lengthAdjust="spacingAndGlyphs" stroke="#000" stroke-width="0.1" >R1 4.7660</text>
<text x="957.5" y="144.9" font-size="9.7" fill="#000" font-family="'Liberation Sans', sans-serif" textLength="42" lengthAdjust="spacingAndGlyphs" stroke="#000" stroke-width="0.1" >S1 4.7040</text>
<text x="957.5" y="191.7" font-size="9.7" fill="#000" font-family="'Liberation Sans', sans-serif" textLength="42" lengthAdjust="spacingAndGlyphs" stroke="#000" stroke-width="0.1" >S2 4.6040</text>
<text x="957.5" y="240.2" font-size="9.7" fill="#000" font-family="'Liberation Sans', sans-serif" textLength="42" lengthAdjust="spacingAndGlyphs" stroke="#000" stroke-width="0.1" >S3 4.5050</text>
<text x="957.5" y="269.1" font-size="9.7" fill="#000" font-family="'Liberation Sans', sans-serif" textLength="42" lengthAdjust="spacingAndGlyphs" stroke="#000" stroke-width="0.1" >S4 4.4430</text>
<text x="957.5" y="317" font-size="9.7" fill="#000" font-family="'Liberation Sans', sans-serif" textLength="42" lengthAdjust="spacingAndGlyphs" stroke="#000" stroke-width="0.1" >S5 4.3430</text>
<text x="2.5" y="744" font-size="9.8" fill="#000" font-family="'Liberation Sans', sans-serif" textLength="52.2" lengthAdjust="spacingAndGlyphs" stroke="#000" stroke-width="0.12" >28 Feb 2014</text>
<text x="66.5" y="744" font-size="9.8" fill="#000" font-family="'Liberation Sans', sans-serif" textLength="49.6" lengthAdjust="spacingAndGlyphs" stroke="#000" stroke-width="0.12" >5 Mar 01:00</text>
<text x="130.5" y="744" font-size="9.8" fill="#000" font-family="'Liberation Sans', sans-serif" textLength="49.6" lengthAdjust="spacingAndGlyphs" stroke="#000" stroke-width="0.12" >7 Mar 17:00</text>
<text x="194.5" y="744" font-size="9.8" fill="#000" font-family="'Liberation Sans', sans-serif" textLength="54.8" lengthAdjust="spacingAndGlyphs" stroke="#000" stroke-width="0.12" >12 Mar 09:00</text>
<text x="258.5" y="744" font-size="9.8" fill="#000" font-family="'Liberation Sans', sans-serif" textLength="54.8" lengthAdjust="spacingAndGlyphs" stroke="#000" stroke-width="0.12" >17 Mar 01:00</text>
<text x="322.5" y="744" font-size="9.8" fill="#000" font-family="'Liberation Sans', sans-serif" textLength="54.8" lengthAdjust="spacingAndGlyphs" stroke="#000" stroke-width="0.12" >19 Mar 17:00</text>
<text x="386.5" y="744" font-size="9.8" fill="#000" font-family="'Liberation Sans', sans-serif" textLength="54.8" lengthAdjust="spacingAndGlyphs" stroke="#000" stroke-width="0.12" >24 Mar 09:00</text>
<text x="450.5" y="744" font-size="9.8" fill="#000" font-family="'Liberation Sans', sans-serif" textLength="54.8" lengthAdjust="spacingAndGlyphs" stroke="#000" stroke-width="0.12" >27 Mar 01:00</text>
<text x="514.5" y="744" font-size="9.8" fill="#000" font-family="'Liberation Sans', sans-serif" textLength="54.8" lengthAdjust="spacingAndGlyphs" stroke="#000" stroke-width="0.12" >31 Mar 17:00</text>
<text x="578.5" y="744" font-size="9.8" fill="#000" font-family="'Liberation Sans', sans-serif" textLength="47.6" lengthAdjust="spacingAndGlyphs" stroke="#000" stroke-width="0.12" >3 Apr 09:00</text>
<text x="642.5" y="744" font-size="9.8" fill="#000" font-family="'Liberation Sans', sans-serif" textLength="47.6" lengthAdjust="spacingAndGlyphs" stroke="#000" stroke-width="0.12" >8 Apr 01:00</text>
<text x="706.5" y="744" font-size="9.8" fill="#000" font-family="'Liberation Sans', sans-serif" textLength="52.7" lengthAdjust="spacingAndGlyphs" stroke="#000" stroke-width="0.12" >10 Apr 17:00</text>
<text x="770.5" y="744" font-size="9.8" fill="#000" font-family="'Liberation Sans', sans-serif" textLength="52.7" lengthAdjust="spacingAndGlyphs" stroke="#000" stroke-width="0.12" >15 Apr 09:00</text>
<text x="834.5" y="744" font-size="9.8" fill="#000" font-family="'Liberation Sans', sans-serif" textLength="52.7" lengthAdjust="spacingAndGlyphs" stroke="#000" stroke-width="0.12" >21 Apr 01:00</text>
<text x="898.5" y="744" font-size="9.8" fill="#000" font-family="'Liberation Sans', sans-serif" textLength="52.7" lengthAdjust="spacingAndGlyphs" stroke="#000" stroke-width="0.12" >23 Apr 17:00</text>
<text x="1174.6" y="390.6" font-size="15.4" fill="#b5a6a6" font-family="'DejaVu Sans', sans-serif" textLength="61.6" lengthAdjust="spacingAndGlyphs" >Портал</text>
<text x="1241.9" y="390.6" font-size="15.4" fill="#b5a6a6" font-family="'DejaVu Sans', sans-serif" textLength="29.1" lengthAdjust="spacingAndGlyphs" >для</text>
<text x="1276.7" y="390.6" font-size="15.4" fill="#b5a6a6" font-family="'DejaVu Sans', sans-serif" textLength="87.4" lengthAdjust="spacingAndGlyphs" >трейдеров</text>
<text x="1371.0" y="390.6" font-size="15.4" fill="#b5a6a6" font-family="'DejaVu Sans', sans-serif" textLength="6.6" lengthAdjust="spacingAndGlyphs" >-</text>
<text x="1383.6" y="390.6" font-size="15.4" fill="#b5a6a6" font-family="'DejaVu Sans', sans-serif" textLength="101.4" lengthAdjust="spacingAndGlyphs" >ForTrader.ru</text>
<text x="7.4" y="726.9" font-size="9.8" fill="#000" font-family="'Liberation Sans', sans-serif" textLength="228" lengthAdjust="spacingAndGlyphs" stroke="#000" stroke-width="0.12" >IFX Trader, © 2001-2014, MetaQuotes Software Corp.</text>
<defs>
<linearGradient id="bg" gradientUnits="userSpaceOnUse" x1="0" y1="619" x2="0" y2="739"><stop offset="0" stop-color="#b00a08"/><stop offset="0.20" stop-color="#cc100c"/><stop offset="0.38" stop-color="#fa1410"/><stop offset="0.68" stop-color="#fa1410"/><stop offset="1" stop-color="#be0608"/></linearGradient>
<mask id="gm" maskUnits="userSpaceOnUse" x="50" y="645" width="40" height="40">
<circle cx="70.0" cy="665.9" r="10.6" fill="#fff"/>
<rect x="68.25" y="652.8" width="3.5" height="4" fill="#fff" transform="rotate(0 70.0 665.9)"/>
<rect x="68.25" y="652.8" width="3.5" height="4" fill="#fff" transform="rotate(-30 70.0 665.9)"/>
<rect x="68.25" y="652.8" width="3.5" height="4" fill="#fff" transform="rotate(-60 70.0 665.9)"/>
<rect x="68.25" y="652.8" width="3.5" height="4" fill="#fff" transform="rotate(-90 70.0 665.9)"/>
<rect x="68.25" y="652.8" width="3.5" height="4" fill="#fff" transform="rotate(-120 70.0 665.9)"/>
<rect x="68.25" y="652.8" width="3.5" height="4" fill="#fff" transform="rotate(-150 70.0 665.9)"/>
<rect x="68.25" y="652.8" width="3.5" height="4" fill="#fff" transform="rotate(-210 70.0 665.9)"/>
<rect x="68.25" y="652.8" width="3.5" height="4" fill="#fff" transform="rotate(-240 70.0 665.9)"/>
<rect x="68.25" y="652.8" width="3.5" height="4" fill="#fff" transform="rotate(-270 70.0 665.9)"/>
<rect x="68.25" y="652.8" width="3.5" height="4" fill="#fff" transform="rotate(-300 70.0 665.9)"/>
<rect x="68.25" y="652.8" width="3.5" height="4" fill="#fff" transform="rotate(-330 70.0 665.9)"/>
<circle cx="70.0" cy="660.4" r="2.35" fill="#000"/>
<polygon fill="#000" points="68.25,682 68.25,664.4 63.00,661.6 63.00,663.9 66.05,665.9 66.05,682"/>
<polygon fill="#000" points="71.75,682 71.75,664.4 77.00,661.6 77.00,663.9 73.95,665.9 73.95,682"/>
<rect x="66.05" y="678.9" width="7.9" height="6" fill="#000"/>
</mask>
</defs>
<polygon points="70.00,619.40 64.90,627.25 58.37,620.55 54.91,629.24 47.19,623.94 45.49,633.14 36.89,629.44 37.01,638.80 27.86,636.86 29.80,646.01 20.44,645.89 24.14,654.49 14.94,656.19 20.24,663.91 11.55,667.37 18.25,673.90 10.40,679.00 18.25,684.10 11.55,690.63 20.24,694.09 14.94,701.81 24.14,703.51 20.44,712.11 29.80,711.99 27.86,721.14 37.01,719.20 36.89,728.56 45.49,724.86 47.19,734.06 54.91,728.76 58.37,737.45 64.90,730.75 70.00,738.60 75.10,730.75 81.63,737.45 85.09,728.76 92.81,734.06 94.51,724.86 103.11,728.56 102.99,719.20 112.14,721.14 110.20,711.99 119.56,712.11 115.86,703.51 125.06,701.81 119.76,694.09 128.45,690.63 121.75,684.10 129.60,679.00 121.75,673.90 128.45,667.37 119.76,663.91 125.06,656.19 115.86,654.49 119.56,645.89 110.20,646.01 112.14,636.86 102.99,638.80 103.11,629.44 94.51,633.14 92.81,623.94 85.09,629.24 81.63,620.55 75.10,627.25" fill="url(#bg)" fill-opacity="0.74"/>
<rect x="50" y="645" width="40" height="40" fill="#fdfffd" mask="url(#gm)"/>
<text x="32.7" y="696.9" font-size="16" fill="#fdfffd" font-family="'Liberation Sans', sans-serif" textLength="73.8" lengthAdjust="spacingAndGlyphs" stroke="#f9524e" stroke-width="0.2">InstaForex</text>
</svg>
</body></html>
